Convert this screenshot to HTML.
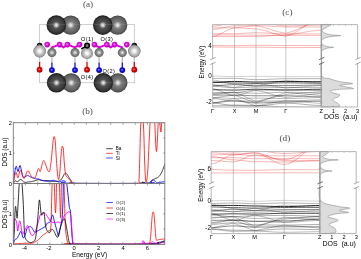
<!DOCTYPE html>
<html><head><meta charset="utf-8"><style>
html,body{margin:0;padding:0;background:#fff;width:361px;height:259px;overflow:hidden}
svg{display:block;filter:blur(0.25px)}

</style></head><body>
<svg width="361" height="259" viewBox="0 0 361 259">
<defs>
<radialGradient id="gDark" cx="50%" cy="50%" r="50%">
 <stop offset="0" stop-color="#ffffff"/><stop offset="0.14" stop-color="#c4c4c4"/>
 <stop offset="0.36" stop-color="#525252"/><stop offset="0.82" stop-color="#363636"/><stop offset="1" stop-color="#141414"/>
</radialGradient>
<radialGradient id="gLight" cx="50%" cy="50%" r="50%">
 <stop offset="0" stop-color="#ffffff"/><stop offset="0.14" stop-color="#d0d0d0"/>
 <stop offset="0.38" stop-color="#7c7c7c"/><stop offset="0.85" stop-color="#5c5c5c"/><stop offset="1" stop-color="#363636"/>
</radialGradient>
<radialGradient id="gWhite" cx="50%" cy="50%" r="50%">
 <stop offset="0" stop-color="#ffffff"/><stop offset="0.25" stop-color="#f0f0f0"/>
 <stop offset="0.55" stop-color="#c4c4c4"/><stop offset="0.85" stop-color="#a2a2a2"/><stop offset="1" stop-color="#6a6a6a"/>
</radialGradient>
<radialGradient id="gGray" cx="50%" cy="50%" r="50%">
 <stop offset="0" stop-color="#ffffff"/><stop offset="0.22" stop-color="#c8c8c8"/>
 <stop offset="0.55" stop-color="#8a8a8a"/><stop offset="0.85" stop-color="#707070"/><stop offset="1" stop-color="#4a4a4a"/>
</radialGradient>
<radialGradient id="gMag" cx="45%" cy="45%" r="55%">
 <stop offset="0" stop-color="#ffa0ff"/><stop offset="0.4" stop-color="#ee10ee"/><stop offset="1" stop-color="#a000a0"/>
</radialGradient>
<radialGradient id="gRed" cx="45%" cy="45%" r="55%">
 <stop offset="0" stop-color="#ffa0a0"/><stop offset="0.4" stop-color="#ee0000"/><stop offset="1" stop-color="#a00000"/>
</radialGradient>
<radialGradient id="gBlue" cx="45%" cy="45%" r="55%">
 <stop offset="0" stop-color="#a0a0ff"/><stop offset="0.4" stop-color="#1010ee"/><stop offset="1" stop-color="#0000a0"/>
</radialGradient>
<radialGradient id="gBlack" cx="40%" cy="40%" r="60%">
 <stop offset="0" stop-color="#707070"/><stop offset="0.5" stop-color="#101010"/><stop offset="1" stop-color="#000000"/>
</radialGradient>
</defs>
<rect width="361" height="259" fill="#fff"/>
<text x="88" y="7.1" font-family="Liberation Serif, serif" font-size="9.2" text-anchor="middle" fill="#4a4a4a" >(a)</text>
<rect x="39.6" y="24.4" width="94.7" height="58.3" fill="none" stroke="#c4c4c4" stroke-width="0.8"/>
<circle cx="70.7" cy="25.1" r="9.7" fill="url(#gLight)"/>
<circle cx="117.6" cy="25.1" r="9.7" fill="url(#gLight)"/>
<circle cx="56.3" cy="25.1" r="9.8" fill="url(#gDark)"/>
<circle cx="102.8" cy="25.1" r="9.8" fill="url(#gDark)"/>
<line x1="39.6" y1="56" x2="39.6" y2="62" stroke="#c8c8c8" stroke-width="1.3"/>
<line x1="39.6" y1="62" x2="39.6" y2="68" stroke="#e00000" stroke-width="1.3"/>
<line x1="87.0" y1="56" x2="87.0" y2="62" stroke="#c8c8c8" stroke-width="1.3"/>
<line x1="87.0" y1="62" x2="87.0" y2="68" stroke="#e00000" stroke-width="1.3"/>
<line x1="134.3" y1="56" x2="134.3" y2="62" stroke="#c8c8c8" stroke-width="1.3"/>
<line x1="134.3" y1="62" x2="134.3" y2="68" stroke="#e00000" stroke-width="1.3"/>
<line x1="51.9" y1="56" x2="51.9" y2="62.5" stroke="#b8b8b8" stroke-width="1.3"/>
<line x1="51.9" y1="62.5" x2="51.9" y2="68.5" stroke="#1010e0" stroke-width="1.3"/>
<line x1="75.0" y1="56" x2="75.0" y2="62.5" stroke="#b8b8b8" stroke-width="1.3"/>
<line x1="75.0" y1="62.5" x2="75.0" y2="68.5" stroke="#1010e0" stroke-width="1.3"/>
<line x1="99.1" y1="56" x2="99.1" y2="62.5" stroke="#b8b8b8" stroke-width="1.3"/>
<line x1="99.1" y1="62.5" x2="99.1" y2="68.5" stroke="#1010e0" stroke-width="1.3"/>
<line x1="122.3" y1="56" x2="122.3" y2="62.5" stroke="#b8b8b8" stroke-width="1.3"/>
<line x1="122.3" y1="62.5" x2="122.3" y2="68.5" stroke="#1010e0" stroke-width="1.3"/>
<path d="M59.6,44.6L51.9,47.4M59.6,44.6L63.5,47.4M67.4,44.6L63.5,47.4M67.4,44.6L75,47.4M106.8,44.6L99.1,47.4M106.8,44.6L110.7,47.4M114.6,44.6L110.7,47.4M114.6,44.6L122.3,47.4M94.4,44.6L99.1,47.4M79.5,44.6L75,47.4" stroke="#e000e0" stroke-width="2.0" stroke-linecap="round" fill="none"/>
<circle cx="39.6" cy="45.6" r="2.8" fill="url(#gBlack)"/>
<circle cx="134.3" cy="45.6" r="2.8" fill="url(#gBlack)"/>
<circle cx="39.7" cy="51.1" r="6.3" fill="url(#gWhite)"/>
<circle cx="134.3" cy="51.1" r="6.3" fill="url(#gWhite)"/>
<circle cx="87" cy="53.2" r="5.9" fill="url(#gWhite)"/>
<circle cx="51.9" cy="52.6" r="4.5" fill="url(#gGray)"/>
<circle cx="75" cy="52.6" r="4.5" fill="url(#gGray)"/>
<circle cx="99.1" cy="52.6" r="4.5" fill="url(#gGray)"/>
<circle cx="122.3" cy="52.6" r="4.5" fill="url(#gGray)"/>
<line x1="87.2" y1="45.6" x2="81.8" y2="48.7" stroke="#000" stroke-width="1.5" stroke-linecap="round"/>
<circle cx="87.1" cy="45.6" r="2.3" fill="#777" stroke="#000" stroke-width="1.5"/>
<circle cx="47.2" cy="44.6" r="2.8" fill="url(#gMag)"/>
<circle cx="59.6" cy="44.6" r="2.8" fill="url(#gMag)"/>
<circle cx="67.4" cy="44.6" r="2.8" fill="url(#gMag)"/>
<circle cx="79.5" cy="44.6" r="2.8" fill="url(#gMag)"/>
<circle cx="94.4" cy="44.6" r="2.8" fill="url(#gMag)"/>
<circle cx="106.8" cy="44.6" r="2.8" fill="url(#gMag)"/>
<circle cx="114.6" cy="44.6" r="2.8" fill="url(#gMag)"/>
<circle cx="126.8" cy="44.6" r="2.8" fill="url(#gMag)"/>
<circle cx="39.6" cy="69.7" r="2.9" fill="url(#gRed)"/>
<circle cx="87" cy="69.7" r="2.9" fill="url(#gRed)"/>
<circle cx="134.3" cy="69.7" r="2.9" fill="url(#gRed)"/>
<circle cx="51.9" cy="70.1" r="2.9" fill="url(#gBlue)"/>
<circle cx="75" cy="70.1" r="2.9" fill="url(#gBlue)"/>
<circle cx="99.1" cy="70.1" r="2.9" fill="url(#gBlue)"/>
<circle cx="122.3" cy="70.1" r="2.9" fill="url(#gBlue)"/>
<circle cx="71.3" cy="82.8" r="9.6" fill="url(#gLight)"/>
<circle cx="117.9" cy="82.8" r="9.6" fill="url(#gLight)"/>
<circle cx="56.5" cy="82.8" r="9.7" fill="url(#gDark)"/>
<circle cx="103.3" cy="82.8" r="9.7" fill="url(#gDark)"/>
<path d="M46,24.4H81M93,24.4H128M46,82.7H81M93,82.7H128" stroke="#b0b0b0" stroke-width="0.6" stroke-opacity="0.35" fill="none"/>
<text x="81" y="40.9" font-family="Liberation Sans, sans-serif" font-size="5.6" text-anchor="start" fill="#000" letter-spacing="0.4">O(1)</text>
<text x="100.6" y="40.9" font-family="Liberation Sans, sans-serif" font-size="5.6" text-anchor="start" fill="#000" letter-spacing="0.4">O(3)</text>
<text x="80.8" y="78.5" font-family="Liberation Sans, sans-serif" font-size="5.6" text-anchor="start" fill="#000" letter-spacing="0.4">O(4)</text>
<text x="102.4" y="73" font-family="Liberation Sans, sans-serif" font-size="5.6" text-anchor="start" fill="#000" letter-spacing="0.4">O(2)</text>
<text x="87.5" y="113.8" font-family="Liberation Serif, serif" font-size="9.2" text-anchor="middle" fill="#4a4a4a" >(b)</text>
<clipPath id="cu"><rect x="13.3" y="122.7" width="151.5" height="60.8"/></clipPath>
<clipPath id="cl"><rect x="13.3" y="183.5" width="151.5" height="60.900000000000006"/></clipPath>
<g clip-path="url(#cu)">
<path d="M13.3,183.3 L13.53,183 L13.84,182.56 L14.22,182.05 L14.62,181.55 L15.03,181.14 L15.4,180.9 L15.74,180.89 L16.06,181.05 L16.38,181.3 L16.71,181.55 L17.08,181.71 L17.5,181.7 L17.99,181.43 L18.55,180.97 L19.14,180.41 L19.74,179.88 L20.3,179.47 L20.8,179.3 L21.23,179.41 L21.61,179.74 L21.96,180.19 L22.29,180.69 L22.63,181.15 L23,181.5 L23.39,181.75 L23.78,181.98 L24.17,182.17 L24.58,182.32 L24.99,182.43 L25.4,182.5 L25.82,182.5 L26.24,182.44 L26.67,182.33 L27.11,182.21 L27.55,182.09 L28,182 L28.45,181.94 L28.9,181.9 L29.36,181.86 L29.83,181.82 L30.31,181.77 L30.8,181.7 L31.29,181.61 L31.79,181.52 L32.29,181.41 L32.81,181.29 L33.38,181.16 L34,181 L34.7,180.79 L35.47,180.53 L36.29,180.26 L37.1,180 L37.89,179.8 L38.6,179.7 L39.21,179.72 L39.73,179.83 L40.21,180 L40.72,180.19 L41.3,180.37 L42,180.5 L42.85,180.58 L43.81,180.63 L44.84,180.66 L45.9,180.7 L46.97,180.74 L48,180.8 L49.02,180.89 L50.07,181.01 L51.12,181.13 L52.15,181.25 L53.12,181.34 L54,181.4 L54.8,181.42 L55.54,181.42 L56.23,181.39 L56.86,181.35 L57.45,181.28 L58,181.2 L58.5,181.11 L58.93,181.02 L59.32,180.91 L59.68,180.77 L60.04,180.57 L60.4,180.3 L60.77,179.95 L61.14,179.53 L61.49,179.05 L61.84,178.54 L62.18,178.02 L62.5,177.5 L62.81,176.95 L63.1,176.35 L63.39,175.74 L63.66,175.15 L63.93,174.62 L64.2,174.2 L64.46,173.87 L64.71,173.61 L64.96,173.41 L65.21,173.28 L65.45,173.21 L65.7,173.2 L65.95,173.26 L66.19,173.4 L66.43,173.6 L66.68,173.86 L66.93,174.16 L67.2,174.5 L67.48,174.9 L67.77,175.37 L68.07,175.89 L68.37,176.44 L68.68,176.98 L69,177.5 L69.33,178.01 L69.67,178.53 L70.02,179.04 L70.36,179.55 L70.69,180.04 L71,180.5 L71.27,180.94 L71.52,181.38 L71.75,181.8 L71.98,182.19 L72.23,182.52 L72.5,182.8 L72.07,183.01 L70.78,183.15 L69.5,183.24 L69.11,183.31 L70.49,183.35 L74.5,183.4 L82.48,183.44 L93.99,183.47 L107.26,183.49 L120.53,183.48 L132.03,183.45 L140,183.4 L143.99,183.31 L145.34,183.19 L144.92,183.05 L143.6,182.9 L142.27,182.74 L141.8,182.6 L142.03,182.44 L142.23,182.26 L142.42,182.07 L142.6,181.92 L142.79,181.82 L143,181.8 L143.21,181.9 L143.4,182.1 L143.61,182.35 L143.84,182.61 L144.13,182.85 L144.5,183 L144.98,183.08 L145.57,183.11 L146.22,183.12 L146.87,183.1 L147.48,183.05 L148,183 L148.41,182.94 L148.76,182.86 L149.06,182.76 L149.35,182.64 L149.66,182.49 L150,182.3 L150.39,182.06 L150.8,181.79 L151.22,181.48 L151.65,181.15 L152.08,180.82 L152.5,180.5 L152.92,180.18 L153.33,179.84 L153.75,179.5 L154.17,179.17 L154.58,178.87 L155,178.6 L155.42,178.4 L155.83,178.25 L156.25,178.13 L156.67,178 L157.08,177.84 L157.5,177.6 L157.92,177.31 L158.33,176.99 L158.75,176.63 L159.17,176.22 L159.58,175.75 L160,175.2 L160.42,174.57 L160.83,173.87 L161.25,173.11 L161.67,172.29 L162.08,171.41 L162.5,170.5 L162.95,169.45 L163.43,168.23 L163.91,166.96 L164.35,165.75 L164.73,164.73 L165,164" fill="none" stroke="#000" stroke-width="0.8" stroke-linejoin="round" />
<path d="M13.3,183.2 L13.42,182.18 L13.59,180.76 L13.79,179.09 L14.02,177.3 L14.26,175.56 L14.5,174 L14.75,172.47 L15.03,170.81 L15.31,169.19 L15.61,167.77 L15.91,166.72 L16.2,166.2 L16.49,166.47 L16.79,167.45 L17.08,168.8 L17.38,170.17 L17.69,171.22 L18,171.6 L18.33,171.1 L18.67,169.96 L19.02,168.49 L19.36,167.02 L19.69,165.88 L20,165.4 L20.28,165.65 L20.53,166.38 L20.78,167.44 L21.01,168.67 L21.25,169.91 L21.5,171 L21.75,172.05 L22,173.21 L22.24,174.38 L22.5,175.47 L22.79,176.37 L23.1,177 L23.45,177.3 L23.84,177.33 L24.26,177.19 L24.68,176.94 L25.1,176.69 L25.5,176.5 L25.88,176.33 L26.26,176.11 L26.63,175.88 L27.01,175.67 L27.39,175.53 L27.8,175.5 L28.23,175.61 L28.67,175.84 L29.12,176.14 L29.59,176.46 L30.05,176.76 L30.5,177 L30.95,177.17 L31.4,177.31 L31.84,177.43 L32.29,177.54 L32.74,177.66 L33.2,177.8 L33.66,177.96 L34.13,178.15 L34.61,178.34 L35.08,178.52 L35.54,178.68 L36,178.8 L36.45,178.87 L36.89,178.9 L37.33,178.9 L37.76,178.9 L38.18,178.93 L38.6,179 L39,179.12 L39.39,179.28 L39.78,179.46 L40.16,179.65 L40.57,179.84 L41,180 L41.45,180.15 L41.9,180.3 L42.36,180.44 L42.86,180.57 L43.4,180.69 L44,180.8 L44.67,180.9 L45.4,181.01 L46.18,181.11 L46.99,181.18 L47.8,181.21 L48.6,181.2 L49.43,181.11 L50.3,180.94 L51.18,180.73 L52.03,180.53 L52.82,180.37 L53.5,180.3 L54.05,180.32 L54.49,180.4 L54.86,180.53 L55.2,180.69 L55.57,180.85 L56,181 L56.5,181.17 L57.05,181.38 L57.61,181.59 L58.17,181.79 L58.71,181.93 L59.2,182 L59.63,181.97 L60.03,181.85 L60.4,181.69 L60.76,181.5 L61.12,181.33 L61.5,181.2 L61.9,181.09 L62.32,180.99 L62.74,180.89 L63.16,180.81 L63.55,180.78 L63.9,180.8 L64.21,180.88 L64.49,181.01 L64.74,181.19 L64.98,181.39 L65.23,181.59 L65.5,181.8 L64.88,182.03 L63.16,182.29 L61.46,182.56 L60.85,182.81 L62.43,183.04 L67.3,183.2 L77.09,183.31 L91.25,183.37 L107.61,183.41 L123.97,183.4 L138.16,183.37 L148,183.3 L152.95,183.2 L154.64,183.08 L154.16,182.92 L152.59,182.72 L151.01,182.48 L150.5,182.2 L150.87,181.81 L151.23,181.3 L151.57,180.74 L151.91,180.23 L152.25,179.82 L152.6,179.6 L152.96,179.6 L153.33,179.76 L153.69,180.04 L154.06,180.37 L154.43,180.71 L154.8,181 L155.16,181.28 L155.5,181.59 L155.85,181.91 L156.21,182.2 L156.59,182.44 L157,182.6 L157.43,182.66 L157.87,182.66 L158.32,182.59 L158.82,182.5 L159.38,182.4 L160,182.3 L160.78,182.2 L161.7,182.07 L162.69,181.93 L163.63,181.8 L164.43,181.68 L165,181.6" fill="none" stroke="#0000ff" stroke-width="0.9" stroke-linejoin="round" />
<path d="M13.3,183.2 L13.44,182.41 L13.63,181.3 L13.85,179.99 L14.1,178.63 L14.35,177.36 L14.6,176.3 L14.85,175.37 L15.1,174.43 L15.37,173.58 L15.64,172.9 L15.92,172.48 L16.2,172.4 L16.48,172.91 L16.76,174 L17.04,175.34 L17.34,176.63 L17.66,177.56 L18,177.8 L18.37,177.07 L18.75,175.57 L19.15,173.7 L19.57,171.87 L20.02,170.5 L20.5,170 L21.01,170.67 L21.55,172.26 L22.11,174.3 L22.7,176.34 L23.29,177.93 L23.9,178.6 L24.52,178.09 L25.17,176.7 L25.82,174.86 L26.49,172.99 L27.15,171.49 L27.8,170.8 L28.44,171.06 L29.09,171.95 L29.74,173.23 L30.37,174.64 L31,175.91 L31.6,176.8 L32.2,177.36 L32.79,177.82 L33.37,178.14 L33.92,178.31 L34.44,178.31 L34.9,178.1 L35.3,177.61 L35.65,176.85 L35.96,175.91 L36.24,174.89 L36.52,173.88 L36.8,173 L37.08,172.14 L37.34,171.21 L37.6,170.31 L37.86,169.51 L38.12,168.91 L38.4,168.6 L38.7,168.77 L39.01,169.38 L39.33,170.19 L39.66,170.96 L39.98,171.44 L40.3,171.4 L40.62,170.71 L40.94,169.54 L41.27,168.09 L41.59,166.56 L41.9,165.13 L42.2,164 L42.48,163.1 L42.74,162.25 L42.99,161.51 L43.25,160.93 L43.51,160.58 L43.8,160.5 L44.11,160.78 L44.44,161.37 L44.77,162.19 L45.12,163.13 L45.46,164.1 L45.8,165 L46.14,165.91 L46.48,166.93 L46.82,167.97 L47.16,168.96 L47.48,169.83 L47.8,170.5 L48.11,171.01 L48.41,171.44 L48.7,171.75 L48.98,171.89 L49.25,171.82 L49.5,171.5 L49.73,170.89 L49.94,170.02 L50.14,168.94 L50.33,167.7 L50.51,166.37 L50.7,165 L50.89,163.57 L51.07,162.04 L51.25,160.41 L51.43,158.69 L51.61,156.88 L51.8,155 L51.99,152.92 L52.19,150.61 L52.39,148.22 L52.6,145.89 L52.8,143.77 L53,142 L53.2,140.52 L53.4,139.2 L53.61,138.09 L53.81,137.24 L54.01,136.69 L54.2,136.5 L54.39,136.66 L54.58,137.13 L54.76,137.91 L54.94,138.98 L55.12,140.35 L55.3,142 L55.47,144.07 L55.64,146.59 L55.8,149.41 L55.96,152.35 L56.13,155.27 L56.3,158 L56.48,160.66 L56.66,163.39 L56.84,166.09 L57.02,168.66 L57.21,171 L57.4,173 L57.59,174.74 L57.79,176.31 L57.99,177.65 L58.2,178.69 L58.4,179.36 L58.6,179.6 L58.8,179.37 L59,178.73 L59.21,177.71 L59.41,176.39 L59.61,174.8 L59.8,173 L59.99,170.8 L60.18,168.12 L60.36,165.18 L60.54,162.2 L60.72,159.4 L60.9,157 L61.08,154.94 L61.25,153.04 L61.42,151.32 L61.59,149.8 L61.75,148.52 L61.9,147.5 L62.03,146.79 L62.16,146.37 L62.27,146.19 L62.38,146.18 L62.49,146.27 L62.6,146.4 L62.71,146.5 L62.83,146.61 L62.94,146.82 L63.05,147.23 L63.17,147.92 L63.3,149 L63.44,150.59 L63.58,152.64 L63.72,154.97 L63.88,157.43 L64.04,159.83 L64.2,162 L64.37,164.04 L64.55,166.09 L64.73,168.09 L64.92,169.96 L65.11,171.62 L65.3,173 L65.48,174.03 L65.64,174.76 L65.81,175.28 L66,175.69 L66.22,176.06 L66.5,176.5 L66.84,176.96 L67.22,177.36 L67.64,177.73 L68.08,178.11 L68.54,178.52 L69,179 L69.48,179.6 L70,180.29 L70.53,181.02 L71.06,181.72 L71.55,182.34 L72,182.8 L71.68,183.09 L70.46,183.26 L69.22,183.34 L68.81,183.36 L70.12,183.37 L74,183.4 L81.74,183.46 L92.91,183.53 L105.79,183.59 L118.66,183.6 L129.8,183.55 L137.5,183.4 L141.33,183.35 L142.59,183.47 L142.12,183.51 L140.78,183.27 L139.42,182.5 L138.9,181 L139.07,178.7 L139.21,175.79 L139.33,172.35 L139.45,168.5 L139.57,164.35 L139.7,160 L139.84,155.12 L139.97,149.56 L140.11,143.69 L140.26,137.89 L140.42,132.53 L140.6,128 L140.8,124.04 L141.02,120.3 L141.26,117 L141.5,114.37 L141.75,112.63 L142,112 L142.26,112.63 L142.54,114.37 L142.82,117 L143.1,120.3 L143.37,124.04 L143.6,128 L143.8,132.56 L143.98,137.96 L144.14,143.81 L144.3,149.7 L144.45,155.23 L144.6,160 L144.75,164.12 L144.9,167.93 L145.05,171.38 L145.2,174.41 L145.35,176.97 L145.5,179 L145.66,180.47 L145.81,181.41 L145.97,181.88 L146.14,181.93 L146.31,181.62 L146.5,181 L146.7,180.14 L146.91,179 L147.12,177.5 L147.35,175.56 L147.57,173.08 L147.8,170 L148.03,166.08 L148.25,161.33 L148.48,156.06 L148.71,150.56 L148.95,145.1 L149.2,140 L149.45,134.97 L149.71,129.74 L149.98,124.56 L150.25,119.7 L150.53,115.43 L150.8,112 L151.07,109.39 L151.35,107.37 L151.62,105.94 L151.91,105.07 L152.2,104.77 L152.5,105 L152.83,105.91 L153.18,107.52 L153.54,109.69 L153.9,112.26 L154.22,115.08 L154.5,118 L154.72,121.27 L154.91,125.06 L155.06,129.09 L155.2,133.11 L155.34,136.84 L155.5,140 L155.67,142.81 L155.83,145.54 L156,147.97 L156.17,149.91 L156.33,151.15 L156.5,151.5 L156.67,150.77 L156.83,149.09 L157,146.72 L157.17,143.91 L157.33,140.92 L157.5,138 L157.67,134.81 L157.83,131.07 L158,127.16 L158.17,123.43 L158.33,120.25 L158.5,118 L158.67,116.73 L158.84,116.15 L159.01,116.12 L159.18,116.52 L159.34,117.19 L159.5,118 L159.65,119.16 L159.79,120.81 L159.92,122.75 L160.06,124.74 L160.18,126.56 L160.3,128 L160.41,129.13 L160.51,130.15 L160.61,131 L160.71,131.63 L160.8,131.98 L160.9,132 L161,131.67 L161.09,131.04 L161.17,130.12 L161.27,128.96 L161.38,127.58 L161.5,126 L161.63,123.99 L161.75,121.48 L161.88,118.75 L162.04,116.07 L162.24,113.73 L162.5,112 L162.86,110.95 L163.31,110.37 L163.81,110.12 L164.3,110.07 L164.71,110.08 L165,110" fill="none" stroke="#ff0000" stroke-width="0.8" stroke-linejoin="round" />
</g>
<g clip-path="url(#cl)">
<path d="M13.3,244 L14.01,243.94 L14.99,243.86 L16.15,243.77 L17.42,243.67 L18.73,243.58 L20,243.5 L21.32,243.43 L22.76,243.36 L24.23,243.3 L25.66,243.25 L26.94,243.21 L28,243.2 L28.79,243.23 L29.37,243.3 L29.81,243.39 L30.19,243.47 L30.56,243.52 L31,243.5 L31.49,243.43 L31.96,243.32 L32.44,243.18 L32.93,242.99 L33.44,242.77 L34,242.5 L34.6,242.19 L35.24,241.86 L35.9,241.47 L36.59,241.04 L37.29,240.56 L38,240 L38.75,239.32 L39.55,238.52 L40.37,237.66 L41.17,236.81 L41.92,236.03 L42.6,235.4 L43.18,234.93 L43.69,234.59 L44.15,234.32 L44.59,234.08 L45.03,233.82 L45.5,233.5 L46,233.11 L46.53,232.69 L47.05,232.26 L47.56,231.82 L48.05,231.39 L48.5,231 L48.92,230.78 L49.32,230.74 L49.69,230.72 L50.04,230.54 L50.34,230.02 L50.6,229 L50.8,227.43 L50.94,225.44 L51.05,223.12 L51.13,220.56 L51.21,217.82 L51.3,215 L51.39,211.98 L51.47,208.67 L51.55,205.19 L51.63,201.67 L51.71,198.23 L51.8,195 L51.9,191.8 L51.99,188.48 L52.09,185.25 L52.2,182.3 L52.33,179.81 L52.5,178 L52.71,176.76 L52.97,175.93 L53.24,175.56 L53.52,175.74 L53.78,176.53 L54,178 L54.17,180.5 L54.32,184.04 L54.45,188.19 L54.57,192.52 L54.68,196.6 L54.8,200 L54.92,202.99 L55.04,205.96 L55.16,208.69 L55.27,210.93 L55.38,212.44 L55.5,213 L55.62,212.44 L55.74,210.93 L55.86,208.69 L55.97,205.96 L56.09,202.99 L56.2,200 L56.29,196.6 L56.35,192.52 L56.41,188.19 L56.49,184.04 L56.61,180.5 L56.8,178 L57.09,176.47 L57.46,175.56 L57.88,175.25 L58.3,175.56 L58.69,176.47 L59,178 L59.23,180.44 L59.41,183.87 L59.55,187.9 L59.67,192.18 L59.78,196.33 L59.9,200 L60.02,203.6 L60.12,207.5 L60.22,211.27 L60.31,214.5 L60.4,216.75 L60.5,217.6 L60.6,216.75 L60.7,214.5 L60.8,211.27 L60.9,207.5 L61,203.6 L61.1,200 L61.18,196.33 L61.24,192.18 L61.31,187.9 L61.39,183.87 L61.51,180.44 L61.7,178 L61.98,176.47 L62.34,175.56 L62.74,175.25 L63.15,175.56 L63.51,176.47 L63.8,178 L64,180.36 L64.13,183.59 L64.23,187.44 L64.31,191.63 L64.39,195.91 L64.5,200 L64.63,204.16 L64.75,208.63 L64.88,213.19 L65.01,217.59 L65.15,221.61 L65.3,225 L65.45,227.69 L65.59,229.85 L65.74,231.62 L65.91,233.15 L66.09,234.56 L66.3,236 L66.54,237.47 L66.8,238.85 L67.09,240.12 L67.39,241.26 L67.69,242.23 L68,243 L67.43,243.53 L65.81,243.81 L64.2,243.94 L63.66,243.96 L65.24,243.96 L70,244 L79.55,244.07 L93.37,244.11 L109.31,244.12 L125.23,244.11 L139.01,244.07 L148.5,244 L153.16,243.94 L154.61,243.89 L153.9,243.81 L152.11,243.67 L150.32,243.41 L149.6,243 L149.76,242.46 L149.92,241.81 L150.07,241.06 L150.21,240.19 L150.36,239.17 L150.5,238 L150.64,236.62 L150.78,235.04 L150.91,233.31 L151.04,231.52 L151.17,229.72 L151.3,228 L151.42,226.28 L151.54,224.5 L151.66,222.71 L151.77,220.99 L151.88,219.4 L152,218 L152.12,216.78 L152.24,215.68 L152.36,214.71 L152.47,213.87 L152.59,213.17 L152.7,212.6 L152.81,212.2 L152.91,211.97 L153.01,211.87 L153.1,211.87 L153.2,211.92 L153.3,212 L153.4,212.06 L153.5,212.12 L153.59,212.24 L153.69,212.48 L153.79,212.88 L153.9,213.5 L154.01,214.37 L154.13,215.46 L154.24,216.72 L154.36,218.09 L154.48,219.54 L154.6,221 L154.72,222.56 L154.83,224.26 L154.95,226.03 L155.07,227.8 L155.18,229.48 L155.3,231 L155.42,232.39 L155.53,233.72 L155.64,234.97 L155.76,236.11 L155.88,237.13 L156,238 L156.12,238.71 L156.24,239.29 L156.37,239.73 L156.5,240.07 L156.64,240.32 L156.8,240.5 L156.97,240.56 L157.14,240.49 L157.33,240.32 L157.53,240.12 L157.75,239.93 L158,239.8 L158.25,239.73 L158.5,239.68 L158.76,239.64 L159.08,239.61 L159.48,239.56 L160,239.5 L160.72,239.41 L161.63,239.3 L162.62,239.18 L163.59,239.07 L164.42,238.97 L165,238.9" fill="none" stroke="#ff0000" stroke-width="0.8" stroke-linejoin="round" />
<path d="M13.3,244 L13.46,243.52 L13.67,242.84 L13.92,242.04 L14.2,241.22 L14.5,240.47 L14.8,239.9 L15.12,239.53 L15.46,239.31 L15.82,239.16 L16.19,239.02 L16.55,238.82 L16.9,238.5 L17.24,238.04 L17.57,237.49 L17.9,236.88 L18.23,236.24 L18.56,235.61 L18.9,235 L19.24,234.3 L19.59,233.47 L19.94,232.64 L20.3,231.94 L20.65,231.52 L21,231.5 L21.35,232.09 L21.7,233.21 L22.05,234.61 L22.4,236.01 L22.75,237.16 L23.1,237.8 L23.45,237.91 L23.8,237.7 L24.15,237.23 L24.5,236.58 L24.85,235.82 L25.2,235 L25.53,234.01 L25.85,232.77 L26.16,231.41 L26.5,230.07 L26.87,228.89 L27.3,228 L27.82,227.41 L28.42,227 L29.06,226.74 L29.69,226.63 L30.29,226.62 L30.8,226.7 L31.22,226.92 L31.57,227.3 L31.89,227.79 L32.18,228.34 L32.48,228.9 L32.8,229.4 L33.14,229.91 L33.47,230.47 L33.81,231.04 L34.16,231.56 L34.52,231.96 L34.9,232.2 L35.29,232.24 L35.7,232.13 L36.11,231.9 L36.55,231.61 L37.01,231.29 L37.5,231 L38.02,230.72 L38.57,230.41 L39.15,230.08 L39.75,229.73 L40.37,229.37 L41,229 L41.68,228.62 L42.42,228.24 L43.17,227.84 L43.91,227.43 L44.6,226.98 L45.2,226.5 L45.69,225.95 L46.1,225.31 L46.46,224.66 L46.79,224.02 L47.13,223.45 L47.5,223 L47.91,222.76 L48.32,222.71 L48.74,222.72 L49.16,222.69 L49.58,222.49 L50,222 L50.42,221.01 L50.85,219.56 L51.28,217.94 L51.7,216.44 L52.11,215.33 L52.5,214.9 L52.85,215.22 L53.17,216.08 L53.47,217.34 L53.78,218.84 L54.11,220.44 L54.5,222 L54.97,223.66 L55.5,225.57 L56.06,227.59 L56.61,229.55 L57.1,231.3 L57.5,232.7 L57.77,233.81 L57.95,234.77 L58.07,235.52 L58.18,236.01 L58.31,236.19 L58.5,236 L58.75,235.36 L59.04,234.28 L59.34,232.89 L59.66,231.31 L59.98,229.64 L60.3,228 L60.62,226.41 L60.97,224.78 L61.31,223.06 L61.64,221.22 L61.95,219.22 L62.2,217 L62.4,214.55 L62.56,211.89 L62.68,209.06 L62.79,206.11 L62.89,203.08 L63,200 L63.09,196.62 L63.15,192.85 L63.2,189 L63.27,185.37 L63.4,182.27 L63.6,180 L63.91,178.59 L64.3,177.81 L64.74,177.56 L65.2,177.74 L65.63,178.25 L66,179 L66.3,180.06 L66.55,181.54 L66.78,183.35 L67,185.41 L67.24,187.66 L67.5,190 L67.8,192.69 L68.14,195.83 L68.48,199.15 L68.82,202.37 L69.13,205.21 L69.4,207.4 L69.62,208.67 L69.8,209.19 L69.95,209.34 L70.09,209.47 L70.24,209.97 L70.4,211.2 L70.58,213.26 L70.75,215.89 L70.93,218.87 L71.11,222.01 L71.3,225.12 L71.5,228 L71.7,230.83 L71.9,233.81 L72.11,236.76 L72.33,239.48 L72.56,241.79 L72.8,243.5 L72.21,244.48 L70.6,244.86 L69.01,244.82 L68.45,244.57 L69.94,244.3 L74.5,244.2 L83.59,244.25 L96.7,244.27 L111.86,244.27 L127.1,244.26 L140.47,244.23 L150,244.2 L155.29,244.17 L157.81,244.15 L158.47,244.11 L158.13,244.05 L157.68,243.95 L158,243.8 L158.91,243.58 L159.67,243.31 L160.31,243 L160.89,242.67 L161.44,242.33 L162,242 L162.59,241.66 L163.19,241.27 L163.75,240.89 L164.26,240.53 L164.69,240.22 L165,240" fill="none" stroke="#0000ff" stroke-width="0.9" stroke-linejoin="round" />
<path d="M13.2,244 L13.19,241.37 L13.16,237.54 L13.12,233.1 L13.13,228.64 L13.21,224.74 L13.4,222 L13.73,220.41 L14.19,219.5 L14.72,219.16 L15.27,219.27 L15.78,219.72 L16.2,220.4 L16.53,221.64 L16.82,223.61 L17.07,225.91 L17.3,228.17 L17.51,229.99 L17.7,231 L17.87,231.07 L17.99,230.49 L18.1,229.47 L18.21,228.24 L18.33,227.01 L18.5,226 L18.7,224.98 L18.91,223.71 L19.15,222.46 L19.41,221.44 L19.69,220.91 L20,221.1 L20.35,222.35 L20.74,224.54 L21.16,227.22 L21.59,229.92 L22.01,232.2 L22.4,233.6 L22.77,234.03 L23.12,233.85 L23.47,233.24 L23.81,232.4 L24.15,231.52 L24.5,230.8 L24.86,230.15 L25.23,229.4 L25.59,228.62 L25.95,227.86 L26.29,227.2 L26.6,226.7 L26.86,226.28 L27.07,225.88 L27.26,225.57 L27.46,225.44 L27.69,225.56 L28,226 L28.39,226.95 L28.83,228.38 L29.32,230.06 L29.82,231.76 L30.32,233.25 L30.8,234.3 L31.26,234.91 L31.73,235.28 L32.19,235.43 L32.65,235.41 L33.09,235.25 L33.5,235 L33.87,234.66 L34.21,234.19 L34.53,233.59 L34.85,232.84 L35.2,231.92 L35.6,230.8 L36.07,229.37 L36.61,227.62 L37.17,225.7 L37.73,223.76 L38.25,221.94 L38.7,220.4 L39.05,219.12 L39.32,217.97 L39.55,216.95 L39.79,216.05 L40.09,215.27 L40.5,214.6 L41.03,214.02 L41.65,213.53 L42.33,213.15 L43.03,212.92 L43.73,212.86 L44.4,213 L45.05,213.42 L45.72,214.1 L46.39,214.96 L47.03,215.9 L47.64,216.81 L48.2,217.6 L48.68,218.31 L49.08,219.02 L49.45,219.71 L49.82,220.35 L50.22,220.92 L50.7,221.4 L51.26,221.78 L51.88,222.09 L52.54,222.33 L53.21,222.51 L53.87,222.63 L54.5,222.7 L55.11,222.69 L55.71,222.57 L56.31,222.4 L56.89,222.22 L57.45,222.07 L58,222 L58.51,222.11 L58.98,222.37 L59.43,222.68 L59.89,222.88 L60.37,222.87 L60.9,222.5 L61.48,221.66 L62.1,220.43 L62.74,218.97 L63.4,217.46 L64.06,216.08 L64.7,215 L65.36,214.19 L66.04,213.52 L66.73,212.97 L67.38,212.54 L67.98,212.22 L68.5,212 L68.92,211.87 L69.28,211.81 L69.58,211.88 L69.83,212.07 L70.07,212.44 L70.3,213 L70.51,213.73 L70.7,214.59 L70.86,215.62 L71,216.85 L71.15,218.3 L71.3,220 L71.45,222.11 L71.6,224.65 L71.75,227.41 L71.9,230.19 L72.05,232.78 L72.2,235 L72.36,236.88 L72.51,238.6 L72.68,240.14 L72.84,241.49 L73.01,242.61 L73.2,243.5 L72.66,244.08 L71.23,244.34 L69.82,244.38 L69.3,244.31 L70.56,244.21 L74.5,244.2 L82.44,244.27 L93.93,244.33 L107.21,244.38 L120.49,244.39 L132.02,244.34 L140,244.2 L144.02,243.95 L145.4,243.6 L145.01,243.18 L143.74,242.75 L142.44,242.34 L142,242 L142.26,241.7 L142.49,241.39 L142.7,241.1 L142.9,240.87 L143.1,240.73 L143.3,240.7 L143.5,240.82 L143.7,241.08 L143.89,241.42 L144.08,241.81 L144.28,242.18 L144.5,242.5 L144.7,242.8 L144.89,243.11 L145.07,243.43 L145.3,243.7 L145.6,243.9 L146,244 L146.54,243.98 L147.2,243.86 L147.93,243.67 L148.68,243.45 L149.39,243.21 L150,243 L150.52,242.77 L150.98,242.49 L151.4,242.21 L151.8,241.95 L152.19,241.77 L152.6,241.7 L152.92,241.79 L153.13,242.01 L153.34,242.3 L153.64,242.6 L154.16,242.86 L155,243 L156.34,243.02 L158.14,242.95 L160.15,242.83 L162.13,242.7 L163.82,242.58 L165,242.5" fill="none" stroke="#ff00ff" stroke-width="0.95" stroke-linejoin="round" />
<path d="M13.3,244 L13.41,242.79 L13.57,241.19 L13.76,239.25 L13.95,237.04 L14.14,234.6 L14.3,232 L14.44,228.96 L14.56,225.4 L14.68,221.61 L14.79,217.9 L14.89,214.6 L15,212 L15.1,210.09 L15.2,208.62 L15.29,207.54 L15.39,206.83 L15.49,206.42 L15.6,206.3 L15.72,206.59 L15.85,207.35 L15.99,208.43 L16.13,209.67 L16.26,210.91 L16.4,212 L16.53,213.23 L16.66,214.8 L16.78,216.37 L16.91,217.61 L17.05,218.2 L17.2,217.8 L17.36,216.2 L17.54,213.62 L17.73,210.39 L17.91,206.82 L18.11,203.25 L18.3,200 L18.48,196.83 L18.66,193.42 L18.84,190.01 L19.04,186.82 L19.25,184.08 L19.5,182 L19.79,180.49 L20.12,179.33 L20.48,178.62 L20.83,178.44 L21.18,178.88 L21.5,180 L21.8,181.97 L22.08,184.74 L22.36,188.12 L22.62,191.93 L22.87,195.95 L23.1,200 L23.31,204.41 L23.51,209.41 L23.69,214.64 L23.86,219.72 L24.03,224.29 L24.2,228 L24.34,230.75 L24.45,232.82 L24.55,234.39 L24.69,235.62 L24.89,236.7 L25.2,237.8 L25.63,238.87 L26.16,239.77 L26.76,240.51 L27.4,241.12 L28.05,241.61 L28.7,242 L29.36,242.29 L30.07,242.47 L30.79,242.53 L31.51,242.47 L32.18,242.29 L32.8,242 L33.35,241.72 L33.85,241.49 L34.32,241.14 L34.76,240.51 L35.18,239.45 L35.6,237.8 L36.01,235.38 L36.4,232.29 L36.77,228.77 L37.13,225.05 L37.48,221.38 L37.8,218 L38.1,214.5 L38.36,210.61 L38.61,206.77 L38.86,203.41 L39.12,200.98 L39.4,199.9 L39.7,200.7 L40.02,203.13 L40.34,206.48 L40.68,210.04 L41.03,213.12 L41.4,215 L41.79,215.39 L42.21,214.8 L42.64,213.72 L43.08,212.65 L43.5,212.08 L43.9,212.5 L44.26,214.17 L44.58,216.73 L44.89,219.8 L45.21,222.97 L45.57,225.83 L46,228 L46.52,229.5 L47.11,230.67 L47.74,231.54 L48.37,232.14 L48.97,232.52 L49.5,232.7 L49.95,232.52 L50.36,231.93 L50.73,231.1 L51.08,230.24 L51.43,229.54 L51.8,229.2 L52.17,229.21 L52.53,229.41 L52.88,229.77 L53.25,230.26 L53.65,230.85 L54.1,231.5 L54.61,232.43 L55.19,233.69 L55.79,235.05 L56.4,236.27 L56.98,237.1 L57.5,237.3 L57.96,236.74 L58.38,235.59 L58.77,234.04 L59.14,232.33 L59.52,230.64 L59.9,229.2 L60.29,227.94 L60.67,226.69 L61.06,225.46 L61.44,224.3 L61.82,223.24 L62.2,222.3 L62.58,221.36 L62.97,220.37 L63.35,219.47 L63.73,218.81 L64.12,218.54 L64.5,218.8 L64.88,219.7 L65.27,221.15 L65.65,222.98 L66.03,225.04 L66.42,227.17 L66.8,229.2 L67.19,231.32 L67.58,233.69 L67.97,236.12 L68.36,238.44 L68.74,240.46 L69.1,242 L69.43,242.98 L69.72,243.53 L70.01,243.79 L70.3,243.87 L70.62,243.9 L71,244 L70.59,244.14 L69.21,244.21 L67.87,244.22 L67.55,244.21 L69.26,244.2 L74,244.2 L83.23,244.23 L96.44,244.28 L111.69,244.32 L127,244.33 L140.42,244.3 L150,244.2 L155.28,244.01 L157.74,243.73 L158.31,243.41 L157.93,243.08 L157.51,242.76 L158,242.5 L159.31,242.28 L160.67,242.08 L162,241.89 L163.22,241.73 L164.25,241.6 L165,241.5" fill="none" stroke="#000" stroke-width="0.8" stroke-linejoin="round" />
</g>
<rect x="13.3" y="122.7" width="151.5" height="60.8" fill="none" stroke="#7a7a7a" stroke-width="0.9"/>
<rect x="13.3" y="183.5" width="151.5" height="60.900000000000006" fill="none" stroke="#7a7a7a" stroke-width="0.9"/>
<path d="M25.4,122.7v2.0M25.4,183.5v-2.0M25.4,183.5v2.0M25.4,244.4v-2.0M37.6,122.7v2.0M37.6,183.5v-2.0M37.6,183.5v2.0M37.6,244.4v-2.0M49.8,122.7v2.0M49.8,183.5v-2.0M49.8,183.5v2.0M49.8,244.4v-2.0M62,122.7v2.0M62,183.5v-2.0M62,183.5v2.0M62,244.4v-2.0M74.2,122.7v2.0M74.2,183.5v-2.0M74.2,183.5v2.0M74.2,244.4v-2.0M86.4,122.7v2.0M86.4,183.5v-2.0M86.4,183.5v2.0M86.4,244.4v-2.0M98.6,122.7v2.0M98.6,183.5v-2.0M98.6,183.5v2.0M98.6,244.4v-2.0M110.8,122.7v2.0M110.8,183.5v-2.0M110.8,183.5v2.0M110.8,244.4v-2.0M123,122.7v2.0M123,183.5v-2.0M123,183.5v2.0M123,244.4v-2.0M135.2,122.7v2.0M135.2,183.5v-2.0M135.2,183.5v2.0M135.2,244.4v-2.0M147.4,122.7v2.0M147.4,183.5v-2.0M147.4,183.5v2.0M147.4,244.4v-2.0M159.6,122.7v2.0M159.6,183.5v-2.0M159.6,183.5v2.0M159.6,244.4v-2.0M13.3,122.7h1.6M164.8,122.7h-1.6M13.3,137.9h1.6M164.8,137.9h-1.6M13.3,153.1h1.6M164.8,153.1h-1.6M13.3,168.3h1.6M164.8,168.3h-1.6M13.3,183.5h1.6M164.8,183.5h-1.6M13.3,183.5h1.6M164.8,183.5h-1.6M13.3,198.7h1.6M164.8,198.7h-1.6M13.3,213.9h1.6M164.8,213.9h-1.6M13.3,229.1h1.6M164.8,229.1h-1.6M13.3,244.3h1.6M164.8,244.3h-1.6" stroke="#7a7a7a" stroke-width="0.7" fill="none"/>
<text x="12.1" y="124.8" font-family="Liberation Sans, sans-serif" font-size="5.8" text-anchor="end" fill="#000" >2</text>
<text x="12.1" y="155.2" font-family="Liberation Sans, sans-serif" font-size="5.8" text-anchor="end" fill="#000" >1</text>
<text x="12.1" y="185.6" font-family="Liberation Sans, sans-serif" font-size="5.8" text-anchor="end" fill="#000" >0</text>
<text x="12.1" y="216" font-family="Liberation Sans, sans-serif" font-size="5.8" text-anchor="end" fill="#000" >1</text>
<text x="12.1" y="246.5" font-family="Liberation Sans, sans-serif" font-size="5.8" text-anchor="end" fill="#000" >0</text>
<text x="24.5" y="250.4" font-family="Liberation Sans, sans-serif" font-size="5.8" text-anchor="middle" fill="#000" >-4</text>
<text x="48.9" y="250.4" font-family="Liberation Sans, sans-serif" font-size="5.8" text-anchor="middle" fill="#000" >-2</text>
<text x="74.2" y="250.4" font-family="Liberation Sans, sans-serif" font-size="5.8" text-anchor="middle" fill="#000" >0</text>
<text x="98.6" y="250.4" font-family="Liberation Sans, sans-serif" font-size="5.8" text-anchor="middle" fill="#000" >2</text>
<text x="123" y="250.4" font-family="Liberation Sans, sans-serif" font-size="5.8" text-anchor="middle" fill="#000" >4</text>
<text x="147.4" y="250.4" font-family="Liberation Sans, sans-serif" font-size="5.8" text-anchor="middle" fill="#000" >6</text>
<text x="89.5" y="257.3" font-family="Liberation Sans, sans-serif" font-size="6.6" text-anchor="middle" fill="#000" >Energy (eV)</text>
<text x="0" y="0" transform="translate(7.2,152) rotate(-90)" font-family="Liberation Sans, sans-serif" font-size="6.4" text-anchor="middle">DOS (a.u)</text>
<text x="0" y="0" transform="translate(7.2,214) rotate(-90)" font-family="Liberation Sans, sans-serif" font-size="6.4" text-anchor="middle">DOS (a.u)</text>
<line x1="106.2" y1="148.7" x2="112.8" y2="148.7" stroke="#000" stroke-width="0.7"/>
<text x="115.8" y="150.3" font-family="Liberation Sans, sans-serif" font-size="4.6" text-anchor="start" fill="#000" >Ba</text>
<line x1="106.2" y1="153.35" x2="112.8" y2="153.35" stroke="#ff0000" stroke-width="0.7"/>
<text x="115.8" y="154.95" font-family="Liberation Sans, sans-serif" font-size="4.6" text-anchor="start" fill="#000" >Ti</text>
<line x1="106.2" y1="158" x2="112.8" y2="158" stroke="#0000ff" stroke-width="0.7"/>
<text x="115.8" y="159.6" font-family="Liberation Sans, sans-serif" font-size="4.6" text-anchor="start" fill="#000" >Si</text>
<line x1="106.4" y1="202.5" x2="113" y2="202.5" stroke="#0000ff" stroke-width="0.7"/>
<text x="116.1" y="204" font-family="Liberation Sans, sans-serif" font-size="4.3" text-anchor="start" fill="#000" letter-spacing="0.15">O(2)</text>
<line x1="106.4" y1="208" x2="113" y2="208" stroke="#ff0000" stroke-width="0.7"/>
<text x="116.1" y="209.5" font-family="Liberation Sans, sans-serif" font-size="4.3" text-anchor="start" fill="#000" letter-spacing="0.15">O(4)</text>
<line x1="106.4" y1="213.5" x2="113" y2="213.5" stroke="#000" stroke-width="0.7"/>
<text x="116.1" y="215" font-family="Liberation Sans, sans-serif" font-size="4.3" text-anchor="start" fill="#000" letter-spacing="0.15">O(1)</text>
<line x1="106.4" y1="219" x2="113" y2="219" stroke="#ff00ff" stroke-width="0.7"/>
<text x="116.1" y="220.5" font-family="Liberation Sans, sans-serif" font-size="4.3" text-anchor="start" fill="#000" letter-spacing="0.15">O(3)</text>
<text x="287.4" y="15" font-family="Liberation Serif, serif" font-size="9.2" text-anchor="middle" fill="#4a4a4a" >(c)</text>
<clipPath id="cpc"><rect x="212.6" y="24.6" width="108.70000000000002" height="82.4"/></clipPath>
<g clip-path="url(#cpc)">
<path d="M212.6,45.5 L215.34,45.51 L218.07,45.52 L220.81,45.53 L223.55,45.55 L226.29,45.57 L229.03,45.58 L231.76,45.59 L234.5,45.6 L237.19,45.58 L239.88,45.54 L242.56,45.5 L245.25,45.45 L247.94,45.4 L250.62,45.36 L253.31,45.32 L256,45.3 L259.73,45.32 L263.45,45.34 L267.18,45.37 L270.9,45.4 L274.62,45.43 L278.35,45.46 L282.07,45.48 L285.8,45.5 L290.24,45.51 L294.68,45.52 L299.11,45.53 L303.55,45.55 L307.99,45.57 L312.43,45.58 L316.86,45.59 L321.3,45.6" fill="none" stroke="#e81010" stroke-width="0.5" stroke-linejoin="round" stroke-opacity="0.6"/>
<path d="M212.6,47 L215.34,47.02 L218.07,47.04 L220.81,47.07 L223.55,47.1 L226.29,47.13 L229.03,47.16 L231.76,47.18 L234.5,47.2 L237.19,47.2 L239.88,47.2 L242.56,47.2 L245.25,47.2 L247.94,47.2 L250.62,47.2 L253.31,47.2 L256,47.2 L259.73,47.23 L263.45,47.28 L267.18,47.34 L270.9,47.4 L274.62,47.46 L278.35,47.52 L282.07,47.57 L285.8,47.6 L290.24,47.59 L294.68,47.58 L299.11,47.57 L303.55,47.55 L307.99,47.53 L312.43,47.52 L316.86,47.51 L321.3,47.5" fill="none" stroke="#e81010" stroke-width="0.5" stroke-linejoin="round" stroke-opacity="0.6"/>
<path d="M212.6,35 L215.34,35 L218.07,35 L220.81,35 L223.55,35 L226.29,35 L229.03,35 L231.76,35 L234.5,35 L237.19,35.02 L239.88,35.04 L242.56,35.07 L245.25,35.1 L247.94,35.13 L250.62,35.16 L253.31,35.18 L256,35.2 L259.73,35.22 L263.45,35.24 L267.18,35.27 L270.9,35.3 L274.62,35.33 L278.35,35.36 L282.07,35.38 L285.8,35.4 L290.24,35.4 L294.68,35.4 L299.11,35.4 L303.55,35.4 L307.99,35.4 L312.43,35.4 L316.86,35.4 L321.3,35.4" fill="none" stroke="#e81010" stroke-width="0.5" stroke-linejoin="round" stroke-opacity="0.6"/>
<path d="M212.6,33.7 L215.34,33.7 L218.07,33.7 L220.81,33.7 L223.55,33.7 L226.29,33.7 L229.03,33.7 L231.76,33.7 L234.5,33.7 L237.19,33.62 L239.88,33.5 L242.56,33.36 L245.25,33.2 L247.94,33.04 L250.62,32.9 L253.31,32.78 L256,32.7 L259.73,32.8 L263.45,32.94 L267.18,33.11 L270.9,33.3 L274.62,33.49 L278.35,33.66 L282.07,33.8 L285.8,33.9 L290.24,33.9 L294.68,33.9 L299.11,33.9 L303.55,33.9 L307.99,33.9 L312.43,33.9 L316.86,33.9 L321.3,33.9" fill="none" stroke="#e81010" stroke-width="0.5" stroke-linejoin="round" stroke-opacity="0.6"/>
<path d="M212.6,36.7 L215.34,35.97 L218.07,34.94 L220.81,33.66 L223.55,32.25 L226.29,30.84 L229.03,29.56 L231.76,28.53 L234.5,27.8 L237.19,27.88 L239.88,28 L242.56,28.14 L245.25,28.3 L247.94,28.46 L250.62,28.6 L253.31,28.72 L256,28.8 L259.73,29.41 L263.45,30.29 L267.18,31.36 L270.9,32.55 L274.62,33.74 L278.35,34.81 L282.07,35.69 L285.8,36.3 L290.24,34.81 L294.68,32.67 L299.11,30.04 L303.55,27.15 L307.99,24.26 L312.43,21.63 L316.86,19.49 L321.3,18" fill="none" stroke="#e81010" stroke-width="0.5" stroke-linejoin="round" stroke-opacity="0.6"/>
<path d="M212.6,29.5 L215.34,29.19 L218.07,28.75 L220.81,28.2 L223.55,27.6 L226.29,27 L229.03,26.45 L231.76,26.01 L234.5,25.7 L237.19,25.72 L239.88,25.74 L242.56,25.77 L245.25,25.8 L247.94,25.83 L250.62,25.86 L253.31,25.88 L256,25.9 L259.73,26.5 L263.45,27.35 L267.18,28.4 L270.9,29.55 L274.62,30.7 L278.35,31.75 L282.07,32.6 L285.8,33.2 L290.24,32.12 L294.68,30.58 L299.11,28.69 L303.55,26.6 L307.99,24.51 L312.43,22.62 L316.86,21.08 L321.3,20" fill="none" stroke="#e81010" stroke-width="0.5" stroke-linejoin="round" stroke-opacity="0.6"/>
<path d="M212.6,27.8 L215.34,27.8 L218.07,27.8 L220.81,27.8 L223.55,27.8 L226.29,27.8 L229.03,27.8 L231.76,27.8 L234.5,27.8 L237.19,27.61 L239.88,27.34 L242.56,27.01 L245.25,26.65 L247.94,26.29 L250.62,25.96 L253.31,25.69 L256,25.5 L259.73,25.62 L263.45,25.8 L267.18,26.01 L270.9,26.25 L274.62,26.49 L278.35,26.7 L282.07,26.88 L285.8,27 L290.24,27 L294.68,27 L299.11,27 L303.55,27 L307.99,27 L312.43,27 L316.86,27 L321.3,27" fill="none" stroke="#e81010" stroke-width="0.5" stroke-linejoin="round" stroke-opacity="0.6"/>
<path d="M212.6,26.2 L215.34,25.94 L218.07,25.57 L220.81,25.11 L223.55,24.6 L226.29,24.09 L229.03,23.63 L231.76,23.26 L234.5,23 L237.19,22.92 L239.88,22.8 L242.56,22.66 L245.25,22.5 L247.94,22.34 L250.62,22.2 L253.31,22.08 L256,22 L259.73,22.33 L263.45,22.79 L267.18,23.37 L270.9,24 L274.62,24.63 L278.35,25.21 L282.07,25.67 L285.8,26 L290.24,25.92 L294.68,25.8 L299.11,25.66 L303.55,25.5 L307.99,25.34 L312.43,25.2 L316.86,25.08 L321.3,25" fill="none" stroke="#e81010" stroke-width="0.5" stroke-linejoin="round" stroke-opacity="0.6"/>
<path d="M212.6,36.5 L215.34,36.5 L218.07,36.5 L220.81,36.5 L223.55,36.5 L226.29,36.5 L229.03,36.5 L231.76,36.5 L234.5,36.5 L237.19,36.5 L239.88,36.5 L242.56,36.5 L245.25,36.5 L247.94,36.5 L250.62,36.5 L253.31,36.5 L256,36.5 L259.73,36.36 L263.45,36.16 L267.18,35.92 L270.9,35.65 L274.62,35.38 L278.35,35.14 L282.07,34.94 L285.8,34.8 L290.24,34.41 L294.68,33.85 L299.11,33.16 L303.55,32.4 L307.99,31.64 L312.43,30.95 L316.86,30.39 L321.3,30" fill="none" stroke="#e81010" stroke-width="0.5" stroke-linejoin="round" stroke-opacity="0.6"/>
<path d="M212.6,76.08 L215.34,76.1 L218.07,76.15 L220.81,76.23 L223.55,76.33 L226.29,76.42 L229.03,76.5 L231.76,76.55 L234.5,76.57 L237.19,76.56 L239.88,76.53 L242.56,76.48 L245.25,76.43 L247.94,76.38 L250.62,76.33 L253.31,76.3 L256,76.29 L259.73,76.31 L263.45,76.35 L267.18,76.41 L270.9,76.48 L274.62,76.55 L278.35,76.61 L282.07,76.65 L285.8,76.67 L290.24,76.67 L294.68,76.67 L299.11,76.68 L303.55,76.68 L307.99,76.69 L312.43,76.7 L316.86,76.7 L321.3,76.7" fill="none" stroke="#000" stroke-width="0.5" stroke-linejoin="round" stroke-opacity="0.35"/>
<path d="M212.6,78.4 L215.34,78.4 L218.07,78.39 L220.81,78.38 L223.55,78.36 L226.29,78.35 L229.03,78.33 L231.76,78.32 L234.5,78.32 L237.19,78.37 L239.88,78.51 L242.56,78.73 L245.25,78.98 L247.94,79.23 L250.62,79.45 L253.31,79.59 L256,79.64 L259.73,79.6 L263.45,79.5 L267.18,79.35 L270.9,79.18 L274.62,79 L278.35,78.85 L282.07,78.75 L285.8,78.71 L290.24,78.71 L294.68,78.71 L299.11,78.7 L303.55,78.69 L307.99,78.69 L312.43,78.68 L316.86,78.68 L321.3,78.67" fill="none" stroke="#000" stroke-width="0.5" stroke-linejoin="round" stroke-opacity="0.6"/>
<path d="M212.6,82.29 L215.34,82.26 L218.07,82.17 L220.81,82.03 L223.55,81.87 L226.29,81.71 L229.03,81.58 L231.76,81.48 L234.5,81.45 L237.19,81.47 L239.88,81.54 L242.56,81.63 L245.25,81.75 L247.94,81.86 L250.62,81.95 L253.31,82.02 L256,82.04 L259.73,82.02 L263.45,81.95 L267.18,81.86 L270.9,81.75 L274.62,81.64 L278.35,81.55 L282.07,81.48 L285.8,81.46 L290.24,81.47 L294.68,81.5 L299.11,81.54 L303.55,81.59 L307.99,81.64 L312.43,81.68 L316.86,81.71 L321.3,81.72" fill="none" stroke="#000" stroke-width="0.9" stroke-linejoin="round" stroke-opacity="0.95"/>
<path d="M212.6,82.24 L215.34,82.27 L218.07,82.35 L220.81,82.48 L223.55,82.63 L226.29,82.78 L229.03,82.9 L231.76,82.99 L234.5,83.02 L237.19,83.03 L239.88,83.07 L242.56,83.13 L245.25,83.2 L247.94,83.27 L250.62,83.33 L253.31,83.37 L256,83.39 L259.73,83.37 L263.45,83.31 L267.18,83.22 L270.9,83.11 L274.62,83.01 L278.35,82.92 L282.07,82.86 L285.8,82.84 L290.24,82.85 L294.68,82.89 L299.11,82.94 L303.55,83.01 L307.99,83.08 L312.43,83.13 L316.86,83.17 L321.3,83.19" fill="none" stroke="#000" stroke-width="0.7" stroke-linejoin="round" stroke-opacity="0.85"/>
<path d="M212.6,85.67 L215.34,85.64 L218.07,85.53 L220.81,85.37 L223.55,85.19 L226.29,85 L229.03,84.84 L231.76,84.74 L234.5,84.7 L237.19,84.74 L239.88,84.87 L242.56,85.05 L245.25,85.26 L247.94,85.47 L250.62,85.65 L253.31,85.77 L256,85.81 L259.73,85.8 L263.45,85.77 L267.18,85.73 L270.9,85.68 L274.62,85.63 L278.35,85.58 L282.07,85.56 L285.8,85.55 L290.24,85.53 L294.68,85.48 L299.11,85.4 L303.55,85.31 L307.99,85.23 L312.43,85.15 L316.86,85.1 L321.3,85.08" fill="none" stroke="#000" stroke-width="0.6" stroke-linejoin="round" stroke-opacity="0.8"/>
<path d="M212.6,86.35 L215.34,86.4 L218.07,86.55 L220.81,86.76 L223.55,87.02 L226.29,87.27 L229.03,87.49 L231.76,87.63 L234.5,87.68 L237.19,87.66 L239.88,87.59 L242.56,87.49 L245.25,87.37 L247.94,87.25 L250.62,87.15 L253.31,87.08 L256,87.06 L259.73,87.07 L263.45,87.11 L267.18,87.18 L270.9,87.25 L274.62,87.33 L278.35,87.39 L282.07,87.44 L285.8,87.45 L290.24,87.46 L294.68,87.49 L299.11,87.53 L303.55,87.58 L307.99,87.63 L312.43,87.67 L316.86,87.7 L321.3,87.71" fill="none" stroke="#000" stroke-width="0.5" stroke-linejoin="round" stroke-opacity="0.65"/>
<path d="M212.6,89.74 L215.34,89.76 L218.07,89.79 L220.81,89.84 L223.55,89.91 L226.29,89.97 L229.03,90.03 L231.76,90.06 L234.5,90.07 L237.19,90.04 L239.88,89.95 L242.56,89.81 L245.25,89.65 L247.94,89.49 L250.62,89.36 L253.31,89.26 L256,89.23 L259.73,89.26 L263.45,89.33 L267.18,89.43 L270.9,89.56 L274.62,89.68 L278.35,89.79 L282.07,89.86 L285.8,89.88 L290.24,89.86 L294.68,89.8 L299.11,89.71 L303.55,89.6 L307.99,89.49 L312.43,89.39 L316.86,89.33 L321.3,89.31" fill="none" stroke="#000" stroke-width="0.8" stroke-linejoin="round" stroke-opacity="0.9"/>
<path d="M212.6,92.79 L215.34,92.79 L218.07,92.77 L220.81,92.74 L223.55,92.7 L226.29,92.67 L229.03,92.64 L231.76,92.62 L234.5,92.61 L237.19,92.52 L239.88,92.25 L242.56,91.84 L245.25,91.36 L247.94,90.88 L250.62,90.48 L253.31,90.21 L256,90.11 L259.73,90.12 L263.45,90.13 L267.18,90.15 L270.9,90.17 L274.62,90.2 L278.35,90.22 L282.07,90.23 L285.8,90.24 L290.24,90.24 L294.68,90.27 L299.11,90.32 L303.55,90.36 L307.99,90.41 L312.43,90.46 L316.86,90.48 L321.3,90.49" fill="none" stroke="#000" stroke-width="0.5" stroke-linejoin="round" stroke-opacity="0.65"/>
<path d="M212.6,94.39 L215.34,94.33 L218.07,94.14 L220.81,93.87 L223.55,93.54 L226.29,93.22 L229.03,92.94 L231.76,92.76 L234.5,92.7 L237.19,92.72 L239.88,92.78 L242.56,92.88 L245.25,93 L247.94,93.12 L250.62,93.22 L253.31,93.28 L256,93.31 L259.73,93.27 L263.45,93.15 L267.18,92.98 L270.9,92.78 L274.62,92.58 L278.35,92.42 L282.07,92.3 L285.8,92.26 L290.24,92.29 L294.68,92.36 L299.11,92.47 L303.55,92.59 L307.99,92.72 L312.43,92.83 L316.86,92.9 L321.3,92.92" fill="none" stroke="#000" stroke-width="0.5" stroke-linejoin="round" stroke-opacity="0.55"/>
<path d="M212.6,95.13 L215.34,95.13 L218.07,95.12 L220.81,95.1 L223.55,95.08 L226.29,95.06 L229.03,95.04 L231.76,95.03 L234.5,95.02 L237.19,95.05 L239.88,95.13 L242.56,95.25 L245.25,95.4 L247.94,95.54 L250.62,95.66 L253.31,95.74 L256,95.77 L259.73,95.77 L263.45,95.77 L267.18,95.77 L270.9,95.77 L274.62,95.77 L278.35,95.77 L282.07,95.77 L285.8,95.77 L290.24,95.81 L294.68,95.92 L299.11,96.09 L303.55,96.28 L307.99,96.48 L312.43,96.64 L316.86,96.75 L321.3,96.79" fill="none" stroke="#000" stroke-width="0.6" stroke-linejoin="round" stroke-opacity="0.75"/>
<path d="M212.6,97.58 L215.34,97.61 L218.07,97.7 L220.81,97.83 L223.55,97.98 L226.29,98.13 L229.03,98.26 L231.76,98.34 L234.5,98.37 L237.19,98.36 L239.88,98.34 L242.56,98.3 L245.25,98.26 L247.94,98.21 L250.62,98.17 L253.31,98.15 L256,98.14 L259.73,98.16 L263.45,98.2 L267.18,98.27 L270.9,98.36 L274.62,98.44 L278.35,98.51 L282.07,98.55 L285.8,98.57 L290.24,98.53 L294.68,98.42 L299.11,98.26 L303.55,98.06 L307.99,97.86 L312.43,97.7 L316.86,97.59 L321.3,97.55" fill="none" stroke="#000" stroke-width="0.5" stroke-linejoin="round" stroke-opacity="0.55"/>
<path d="M212.6,98.62 L215.34,98.71 L218.07,98.95 L220.81,99.31 L223.55,99.74 L226.29,100.17 L229.03,100.53 L231.76,100.77 L234.5,100.85 L237.19,100.87 L239.88,100.9 L242.56,100.96 L245.25,101.02 L247.94,101.08 L250.62,101.14 L253.31,101.17 L256,101.19 L259.73,101.18 L263.45,101.16 L267.18,101.13 L270.9,101.09 L274.62,101.05 L278.35,101.02 L282.07,101 L285.8,101 L290.24,100.95 L294.68,100.84 L299.11,100.66 L303.55,100.46 L307.99,100.25 L312.43,100.08 L316.86,99.96 L321.3,99.92" fill="none" stroke="#000" stroke-width="0.5" stroke-linejoin="round" stroke-opacity="0.65"/>
<path d="M212.6,102.58 L215.34,102.52 L218.07,102.35 L220.81,102.09 L223.55,101.78 L226.29,101.47 L229.03,101.21 L231.76,101.04 L234.5,100.98 L237.19,101.05 L239.88,101.27 L242.56,101.59 L245.25,101.97 L247.94,102.35 L250.62,102.67 L253.31,102.89 L256,102.96 L259.73,102.93 L263.45,102.84 L267.18,102.71 L270.9,102.55 L274.62,102.39 L278.35,102.26 L282.07,102.17 L285.8,102.14 L290.24,102.1 L294.68,102 L299.11,101.85 L303.55,101.67 L307.99,101.5 L312.43,101.35 L316.86,101.25 L321.3,101.21" fill="none" stroke="#000" stroke-width="0.6" stroke-linejoin="round" stroke-opacity="0.75"/>
<path d="M212.6,103.1 L215.34,103.2 L218.07,103.47 L220.81,103.88 L223.55,104.37 L226.29,104.85 L229.03,105.26 L231.76,105.54 L234.5,105.63 L237.19,105.65 L239.88,105.7 L242.56,105.77 L245.25,105.85 L247.94,105.93 L250.62,106 L253.31,106.05 L256,106.07 L259.73,105.96 L263.45,105.65 L267.18,105.18 L270.9,104.63 L274.62,104.07 L278.35,103.61 L282.07,103.29 L285.8,103.18 L290.24,103.27 L294.68,103.52 L299.11,103.89 L303.55,104.32 L307.99,104.76 L312.43,105.13 L316.86,105.38 L321.3,105.46" fill="none" stroke="#000" stroke-width="0.5" stroke-linejoin="round" stroke-opacity="0.65"/>
<path d="M212.6,105.81 L215.34,105.78 L218.07,105.69 L220.81,105.56 L223.55,105.4 L226.29,105.24 L229.03,105.1 L231.76,105.01 L234.5,104.98 L237.19,105 L239.88,105.05 L242.56,105.12 L245.25,105.21 L247.94,105.3 L250.62,105.37 L253.31,105.42 L256,105.44 L259.73,105.5 L263.45,105.66 L267.18,105.91 L270.9,106.2 L274.62,106.49 L278.35,106.74 L282.07,106.9 L285.8,106.96 L290.24,106.97 L294.68,107.01 L299.11,107.06 L303.55,107.13 L307.99,107.19 L312.43,107.24 L316.86,107.28 L321.3,107.29" fill="none" stroke="#000" stroke-width="0.5" stroke-linejoin="round" stroke-opacity="0.55"/>
<path d="M212.6,98 L215.34,97.62 L218.07,97.25 L220.81,96.88 L223.55,96.5 L226.29,96.12 L229.03,95.75 L231.76,95.38 L234.5,95 L237.19,96 L239.88,97 L242.56,98 L245.25,99 L247.94,100 L250.62,101 L253.31,102 L256,103 L259.73,101.69 L263.45,100.38 L267.18,99.06 L270.9,97.75 L274.62,96.44 L278.35,95.12 L282.07,93.81 L285.8,92.5 L290.24,92.88 L294.68,93.25 L299.11,93.62 L303.55,94 L307.99,94.38 L312.43,94.75 L316.86,95.12 L321.3,95.5" fill="none" stroke="#000" stroke-width="0.5" stroke-linejoin="round" stroke-opacity="0.55"/>
<path d="M212.6,93.5 L215.34,93.31 L218.07,93.12 L220.81,92.94 L223.55,92.75 L226.29,92.56 L229.03,92.38 L231.76,92.19 L234.5,92 L237.19,93.19 L239.88,94.38 L242.56,95.56 L245.25,96.75 L247.94,97.94 L250.62,99.12 L253.31,100.31 L256,101.5 L259.73,100.62 L263.45,99.75 L267.18,98.88 L270.9,98 L274.62,97.12 L278.35,96.25 L282.07,95.38 L285.8,94.5 L290.24,94.12 L294.68,93.75 L299.11,93.38 L303.55,93 L307.99,92.62 L312.43,92.25 L316.86,91.88 L321.3,91.5" fill="none" stroke="#000" stroke-width="0.5" stroke-linejoin="round" stroke-opacity="0.5"/>
<path d="M212.6,103.5 L215.34,102.88 L218.07,102.25 L220.81,101.62 L223.55,101 L226.29,100.38 L229.03,99.75 L231.76,99.12 L234.5,98.5 L237.19,99.44 L239.88,100.38 L242.56,101.31 L245.25,102.25 L247.94,103.19 L250.62,104.12 L253.31,105.06 L256,106 L259.73,105.31 L263.45,104.62 L267.18,103.94 L270.9,103.25 L274.62,102.56 L278.35,101.88 L282.07,101.19 L285.8,100.5 L290.24,100.88 L294.68,101.25 L299.11,101.62 L303.55,102 L307.99,102.38 L312.43,102.75 L316.86,103.12 L321.3,103.5" fill="none" stroke="#000" stroke-width="0.5" stroke-linejoin="round" stroke-opacity="0.5"/>
<path d="M212.6,84.5 L215.34,84.88 L218.07,85.25 L220.81,85.62 L223.55,86 L226.29,86.38 L229.03,86.75 L231.76,87.12 L234.5,87.5 L237.19,87 L239.88,86.5 L242.56,86 L245.25,85.5 L247.94,85 L250.62,84.5 L253.31,84 L256,83.5 L259.73,84.06 L263.45,84.62 L267.18,85.19 L270.9,85.75 L274.62,86.31 L278.35,86.88 L282.07,87.44 L285.8,88 L290.24,87.69 L294.68,87.38 L299.11,87.06 L303.55,86.75 L307.99,86.44 L312.43,86.12 L316.86,85.81 L321.3,85.5" fill="none" stroke="#000" stroke-width="0.5" stroke-linejoin="round" stroke-opacity="0.5"/>
<path d="M212.6,88.5 L215.34,89.11 L218.07,89.99 L220.81,91.06 L223.55,92.25 L226.29,93.44 L229.03,94.51 L231.76,95.39 L234.5,96 L237.19,95.55 L239.88,94.91 L242.56,94.12 L245.25,93.25 L247.94,92.38 L250.62,91.59 L253.31,90.95 L256,90.5 L259.73,91.07 L263.45,91.89 L267.18,92.89 L270.9,94 L274.62,95.11 L278.35,96.11 L282.07,96.93 L285.8,97.5 L290.24,97.17 L294.68,96.71 L299.11,96.13 L303.55,95.5 L307.99,94.87 L312.43,94.29 L316.86,93.83 L321.3,93.5" fill="none" stroke="#000" stroke-width="0.5" stroke-linejoin="round" stroke-opacity="0.5"/>
<path d="M212.6,80 L215.34,80.33 L218.07,80.79 L220.81,81.37 L223.55,82 L226.29,82.63 L229.03,83.21 L231.76,83.67 L234.5,84 L237.19,84.16 L239.88,84.4 L242.56,84.68 L245.25,85 L247.94,85.32 L250.62,85.6 L253.31,85.84 L256,86 L259.73,85.55 L263.45,84.91 L267.18,84.12 L270.9,83.25 L274.62,82.38 L278.35,81.59 L282.07,80.95 L285.8,80.5 L290.24,80.7 L294.68,81 L299.11,81.35 L303.55,81.75 L307.99,82.15 L312.43,82.5 L316.86,82.8 L321.3,83" fill="none" stroke="#000" stroke-width="0.5" stroke-linejoin="round" stroke-opacity="0.45"/>
</g>
<path d="M234.5,24.6V107.0M256,24.6V107.0M285.8,24.6V107.0" stroke="#909090" stroke-width="0.5" fill="none"/>
<path d="M321.3,24.6 L323.39,24.53 L326.46,24.42 L329.38,24.4 L331,24.6 L330.75,25.13 L329.32,25.89 L327.49,26.74 L326,27.5 L324.95,28.18 L323.97,28.86 L323.13,29.48 L322.5,30 L322.06,30.36 L321.78,30.61 L321.74,30.85 L322,31.2 L322.64,31.74 L323.59,32.39 L324.75,33.05 L326,33.6 L327.29,34.02 L328.69,34.36 L330.25,34.64 L332,34.9 L334.44,35.11 L337.38,35.28 L339.86,35.43 L340.9,35.6 L339.86,35.78 L337.38,35.96 L334.44,36.16 L332,36.4 L330.25,36.67 L328.69,36.96 L327.29,37.29 L326,37.7 L324.77,38.18 L323.64,38.72 L322.69,39.32 L322,40 L321.61,40.8 L321.48,41.71 L321.56,42.61 L321.8,43.4 L322.25,44.06 L322.92,44.64 L323.7,45.16 L324.5,45.6 L325.27,45.96 L326.07,46.25 L326.96,46.49 L328,46.7 L329.51,46.88 L331.37,47.02 L332.94,47.15 L333.6,47.3 L332.94,47.46 L331.37,47.61 L329.51,47.79 L328,48 L326.96,48.25 L326.07,48.52 L325.27,48.83 L324.5,49.2 L323.71,49.53 L322.94,49.85 L322.28,50.34 L321.8,51.2 L321.57,52.3 L321.53,53.61 L321.58,55.41 L321.6,58 L321.41,62.05 L321.13,67.21 L321.08,72.24 L321.6,75.9 L322.9,77.63 L324.77,78.18 L326.88,78.23 L328.9,78.5 L330.85,79.12 L332.87,79.74 L334.83,80.31 L336.6,80.8 L337.99,81.17 L339.11,81.44 L340.32,81.7 L342,82 L344.88,82.37 L348.56,82.76 L351.65,83.18 L352.8,83.6 L350.57,84.01 L346.06,84.41 L341.64,84.85 L339.7,85.4 L341.93,86.14 L346.7,87.01 L351.45,87.86 L353.6,88.5 L351.97,88.85 L348.1,89 L343.5,89.1 L339.7,89.3 L336.76,89.61 L333.99,89.96 L331.75,90.35 L330.4,90.8 L330.23,91.34 L330.98,91.94 L332.22,92.56 L333.5,93.1 L335.02,93.53 L336.9,93.9 L338.63,94.27 L339.7,94.7 L339.9,95.24 L339.52,95.86 L338.81,96.46 L338,97 L336.97,97.41 L335.64,97.74 L334.37,98.08 L333.5,98.5 L333.09,99.04 L332.97,99.65 L333.12,100.29 L333.5,100.9 L334.25,101.46 L335.35,102.01 L336.5,102.57 L337.4,103.2 L338.41,103.97 L339.55,104.85 L340.01,105.67 L339,106.3 L335.52,106.66 L330.25,106.84 L324.93,106.93 L321.3,107Z" fill="#dcdcdc" stroke="#707070" stroke-width="0.45"/>
<path d="M212.6,24.6H321.3M212.6,107.0H321.3M212.6,24.6V58.6M212.6,63.4V107.0M321.3,24.6V58.6M321.3,63.4V107.0" stroke="#999999" stroke-width="0.7" fill="none"/>
<path d="M210.3,59.7L215.6,57.4M210.3,64.5L215.6,62.2" stroke="#555" stroke-width="0.5" fill="none"/>
<path d="M319,59.7L324.3,57.4M319,64.5L324.3,62.2" stroke="#555" stroke-width="0.5" fill="none"/>
<path d="M321.3,24.6H357.6M321.3,107.0H357.6M321.3,24.6V58.6M321.3,63.4V107.0M357.6,24.6V58.6M357.6,63.4V107.0" stroke="#999999" stroke-width="0.7" fill="none"/>
<path d="M319,59.7L324.3,57.4M319,64.5L324.3,62.2" stroke="#555" stroke-width="0.5" fill="none"/>
<path d="M355.3,59.7L360.6,57.4M355.3,64.5L360.6,62.2" stroke="#555" stroke-width="0.5" fill="none"/>
<path d="M333.4,24.6v1.5M333.4,107.0v-1.5M345.5,24.6v1.5M345.5,107.0v-1.5M327.35,24.6v1M327.35,107.0v-1M339.45,24.6v1M339.45,107.0v-1M351.55,24.6v1M351.55,107.0v-1M212.6,76.5h1.5M321.3,76.5h-1.5M321.3,76.5h1.5M212.6,102.4h1.5M321.3,102.4h-1.5M321.3,102.4h1.5M212.6,45.8h1.5M321.3,45.8h-1.5M321.3,45.8h1.5M212.6,89.45h1.5M321.3,89.45h-1.5M321.3,89.45h1.5" stroke="#999999" stroke-width="0.5" fill="none"/>
<text x="211.8" y="47.5" font-family="Liberation Sans, sans-serif" font-size="6.3" text-anchor="end" fill="#000" >4</text>
<text x="211.8" y="78.1" font-family="Liberation Sans, sans-serif" font-size="6.3" text-anchor="end" fill="#000" >0</text>
<text x="211.8" y="104.3" font-family="Liberation Sans, sans-serif" font-size="6.3" text-anchor="end" fill="#000" >-2</text>
<text x="212.6" y="112.8" font-family="Liberation Sans, sans-serif" font-size="5.6" text-anchor="middle" fill="#000" >Γ</text>
<text x="234.5" y="112.8" font-family="Liberation Sans, sans-serif" font-size="5.6" text-anchor="middle" fill="#000" >X</text>
<text x="256" y="112.8" font-family="Liberation Sans, sans-serif" font-size="5.6" text-anchor="middle" fill="#000" >M</text>
<text x="285.8" y="112.8" font-family="Liberation Sans, sans-serif" font-size="5.6" text-anchor="middle" fill="#000" >Γ</text>
<text x="321.3" y="112.8" font-family="Liberation Sans, sans-serif" font-size="5.6" text-anchor="middle" fill="#000" >Z</text>
<text x="333.4" y="112.8" font-family="Liberation Sans, sans-serif" font-size="5.6" text-anchor="middle" fill="#000" >1</text>
<text x="345.5" y="112.8" font-family="Liberation Sans, sans-serif" font-size="5.6" text-anchor="middle" fill="#000" >2</text>
<text x="357.6" y="112.8" font-family="Liberation Sans, sans-serif" font-size="5.6" text-anchor="middle" fill="#000" >3</text>
<text x="340.65" y="119.3" font-family="Liberation Sans, sans-serif" font-size="7.0" text-anchor="middle" fill="#000" >DOS&#160;&#160;(a.u)</text>
<text x="0" y="0" transform="translate(204.1,62.1) rotate(-90) scale(0.86,1)" font-family="Liberation Sans, sans-serif" font-size="7.2" text-anchor="middle">Energy (eV)</text>
<text x="284.9" y="141.45" font-family="Liberation Serif, serif" font-size="9.2" text-anchor="middle" fill="#4a4a4a" >(d)</text>
<clipPath id="cpd"><rect x="211.2" y="151.6" width="108.60000000000002" height="82.0"/></clipPath>
<g clip-path="url(#cpd)">
<path d="M211.2,169.5 L213.96,169.53 L216.72,169.6 L219.49,169.72 L222.25,169.85 L225.01,169.98 L227.78,170.1 L230.54,170.17 L233.3,170.2 L235.96,170.2 L238.62,170.21 L241.29,170.23 L243.95,170.25 L246.61,170.27 L249.28,170.29 L251.94,170.3 L254.6,170.3 L258.3,170.28 L262,170.21 L265.7,170.11 L269.4,170 L273.1,169.89 L276.8,169.79 L280.5,169.72 L284.2,169.7 L288.65,169.7 L293.1,169.7 L297.55,169.7 L302,169.7 L306.45,169.7 L310.9,169.7 L315.35,169.7 L319.8,169.7" fill="none" stroke="#e81010" stroke-width="0.5" stroke-linejoin="round" stroke-opacity="0.6"/>
<path d="M211.2,172.9 L213.96,172.9 L216.72,172.9 L219.49,172.9 L222.25,172.9 L225.01,172.9 L227.78,172.9 L230.54,172.9 L233.3,172.9 L235.96,172.9 L238.62,172.89 L241.29,172.87 L243.95,172.85 L246.61,172.83 L249.28,172.81 L251.94,172.8 L254.6,172.8 L258.3,172.8 L262,172.8 L265.7,172.8 L269.4,172.8 L273.1,172.8 L276.8,172.8 L280.5,172.8 L284.2,172.8 L288.65,172.8 L293.1,172.8 L297.55,172.8 L302,172.8 L306.45,172.8 L310.9,172.8 L315.35,172.8 L319.8,172.8" fill="none" stroke="#e81010" stroke-width="0.5" stroke-linejoin="round" stroke-opacity="0.6"/>
<path d="M211.2,163.9 L213.96,163.56 L216.72,162.6 L219.49,161.15 L222.25,159.45 L225.01,157.75 L227.78,156.3 L230.54,155.34 L233.3,155 L235.96,154.92 L238.62,154.71 L241.29,154.38 L243.95,154 L246.61,153.62 L249.28,153.29 L251.94,153.08 L254.6,153 L258.3,153.44 L262,154.68 L265.7,156.55 L269.4,158.75 L273.1,160.95 L276.8,162.82 L280.5,164.06 L284.2,164.5 L288.65,163.76 L293.1,161.64 L297.55,158.48 L302,154.75 L306.45,151.02 L310.9,147.86 L315.35,145.74 L319.8,145" fill="none" stroke="#e81010" stroke-width="0.5" stroke-linejoin="round" stroke-opacity="0.6"/>
<path d="M211.2,160.5 L213.96,160.55 L216.72,160.71 L219.49,160.93 L222.25,161.2 L225.01,161.47 L227.78,161.69 L230.54,161.85 L233.3,161.9 L235.96,161.64 L238.62,160.89 L241.29,159.77 L243.95,158.45 L246.61,157.13 L249.28,156.01 L251.94,155.26 L254.6,155 L258.3,155.18 L262,155.67 L265.7,156.42 L269.4,157.3 L273.1,158.18 L276.8,158.93 L280.5,159.42 L284.2,159.6 L288.65,159.08 L293.1,157.61 L297.55,155.4 L302,152.8 L306.45,150.2 L310.9,147.99 L315.35,146.52 L319.8,146" fill="none" stroke="#e81010" stroke-width="0.5" stroke-linejoin="round" stroke-opacity="0.6"/>
<path d="M211.2,157.7 L213.96,157.7 L216.72,157.7 L219.49,157.7 L222.25,157.7 L225.01,157.7 L227.78,157.7 L230.54,157.7 L233.3,157.7 L235.96,157.74 L238.62,157.85 L241.29,158.01 L243.95,158.2 L246.61,158.39 L249.28,158.55 L251.94,158.66 L254.6,158.7 L258.3,158.7 L262,158.7 L265.7,158.7 L269.4,158.7 L273.1,158.7 L276.8,158.7 L280.5,158.7 L284.2,158.7 L288.65,158.7 L293.1,158.7 L297.55,158.7 L302,158.7 L306.45,158.7 L310.9,158.7 L315.35,158.7 L319.8,158.7" fill="none" stroke="#e81010" stroke-width="0.5" stroke-linejoin="round" stroke-opacity="0.6"/>
<path d="M211.2,154.9 L213.96,154.87 L216.72,154.8 L219.49,154.68 L222.25,154.55 L225.01,154.42 L227.78,154.3 L230.54,154.23 L233.3,154.2 L235.96,154.26 L238.62,154.43 L241.29,154.69 L243.95,155 L246.61,155.31 L249.28,155.57 L251.94,155.74 L254.6,155.8 L258.3,155.8 L262,155.8 L265.7,155.8 L269.4,155.8 L273.1,155.8 L276.8,155.8 L280.5,155.8 L284.2,155.8 L288.65,155.8 L293.1,155.8 L297.55,155.8 L302,155.8 L306.45,155.8 L310.9,155.8 L315.35,155.8 L319.8,155.8" fill="none" stroke="#e81010" stroke-width="0.5" stroke-linejoin="round" stroke-opacity="0.6"/>
<path d="M211.2,152.8 L213.96,152.85 L216.72,153.01 L219.49,153.23 L222.25,153.5 L225.01,153.77 L227.78,153.99 L230.54,154.15 L233.3,154.2 L235.96,154.15 L238.62,153.99 L241.29,153.77 L243.95,153.5 L246.61,153.23 L249.28,153.01 L251.94,152.85 L254.6,152.8 L258.3,153.1 L262,153.94 L265.7,155.21 L269.4,156.7 L273.1,158.19 L276.8,159.46 L280.5,160.3 L284.2,160.6 L288.65,160.6 L293.1,160.6 L297.55,160.6 L302,160.6 L306.45,160.6 L310.9,160.6 L315.35,160.6 L319.8,160.6" fill="none" stroke="#e81010" stroke-width="0.5" stroke-linejoin="round" stroke-opacity="0.6"/>
<path d="M211.2,156.5 L213.96,156.63 L216.72,156.98 L219.49,157.52 L222.25,158.15 L225.01,158.78 L227.78,159.32 L230.54,159.67 L233.3,159.8 L235.96,159.87 L238.62,160.06 L241.29,160.36 L243.95,160.7 L246.61,161.04 L249.28,161.34 L251.94,161.53 L254.6,161.6 L258.3,161.62 L262,161.66 L265.7,161.72 L269.4,161.8 L273.1,161.88 L276.8,161.94 L280.5,161.98 L284.2,162 L288.65,161.95 L293.1,161.82 L297.55,161.63 L302,161.4 L306.45,161.17 L310.9,160.98 L315.35,160.85 L319.8,160.8" fill="none" stroke="#e81010" stroke-width="0.5" stroke-linejoin="round" stroke-opacity="0.6"/>
<path d="M211.2,151 L213.96,151.04 L216.72,151.15 L219.49,151.31 L222.25,151.5 L225.01,151.69 L227.78,151.85 L230.54,151.96 L233.3,152 L235.96,151.94 L238.62,151.78 L241.29,151.54 L243.95,151.25 L246.61,150.96 L249.28,150.72 L251.94,150.56 L254.6,150.5 L258.3,150.61 L262,150.94 L265.7,151.43 L269.4,152 L273.1,152.57 L276.8,153.06 L280.5,153.39 L284.2,153.5 L288.65,153.42 L293.1,153.21 L297.55,152.88 L302,152.5 L306.45,152.12 L310.9,151.79 L315.35,151.58 L319.8,151.5" fill="none" stroke="#e81010" stroke-width="0.5" stroke-linejoin="round" stroke-opacity="0.6"/>
<path d="M211.2,200.82 L213.96,200.81 L216.72,200.78 L219.49,200.73 L222.25,200.68 L225.01,200.63 L227.78,200.58 L230.54,200.55 L233.3,200.54 L235.96,200.57 L238.62,200.66 L241.29,200.79 L243.95,200.94 L246.61,201.09 L249.28,201.22 L251.94,201.31 L254.6,201.34 L258.3,201.31 L262,201.21 L265.7,201.06 L269.4,200.88 L273.1,200.7 L276.8,200.55 L280.5,200.45 L284.2,200.42 L288.65,200.44 L293.1,200.52 L297.55,200.64 L302,200.79 L306.45,200.93 L310.9,201.05 L315.35,201.13 L319.8,201.16" fill="none" stroke="#000" stroke-width="0.5" stroke-linejoin="round" stroke-opacity="0.35"/>
<path d="M211.2,203.49 L213.96,203.47 L216.72,203.41 L219.49,203.33 L222.25,203.24 L225.01,203.14 L227.78,203.06 L230.54,203.01 L233.3,202.99 L235.96,203.02 L238.62,203.1 L241.29,203.21 L243.95,203.35 L246.61,203.49 L249.28,203.61 L251.94,203.68 L254.6,203.71 L258.3,203.68 L262,203.6 L265.7,203.48 L269.4,203.34 L273.1,203.19 L276.8,203.07 L280.5,202.99 L284.2,202.96 L288.65,202.98 L293.1,203.05 L297.55,203.16 L302,203.28 L306.45,203.4 L310.9,203.5 L315.35,203.57 L319.8,203.59" fill="none" stroke="#000" stroke-width="0.5" stroke-linejoin="round" stroke-opacity="0.6"/>
<path d="M211.2,205.41 L213.96,205.41 L216.72,205.42 L219.49,205.42 L222.25,205.43 L225.01,205.43 L227.78,205.44 L230.54,205.44 L233.3,205.45 L235.96,205.47 L238.62,205.52 L241.29,205.61 L243.95,205.71 L246.61,205.81 L249.28,205.9 L251.94,205.96 L254.6,205.98 L258.3,206 L262,206.07 L265.7,206.18 L269.4,206.3 L273.1,206.42 L276.8,206.53 L280.5,206.6 L284.2,206.62 L288.65,206.58 L293.1,206.46 L297.55,206.28 L302,206.06 L306.45,205.85 L310.9,205.66 L315.35,205.54 L319.8,205.5" fill="none" stroke="#000" stroke-width="0.9" stroke-linejoin="round" stroke-opacity="0.95"/>
<path d="M211.2,206.96 L213.96,206.98 L216.72,207.05 L219.49,207.16 L222.25,207.28 L225.01,207.4 L227.78,207.51 L230.54,207.58 L233.3,207.6 L235.96,207.62 L238.62,207.68 L241.29,207.76 L243.95,207.86 L246.61,207.96 L249.28,208.04 L251.94,208.1 L254.6,208.12 L258.3,208.09 L262,208.03 L265.7,207.93 L269.4,207.82 L273.1,207.71 L276.8,207.61 L280.5,207.55 L284.2,207.52 L288.65,207.51 L293.1,207.48 L297.55,207.43 L302,207.38 L306.45,207.32 L310.9,207.28 L315.35,207.25 L319.8,207.23" fill="none" stroke="#000" stroke-width="0.7" stroke-linejoin="round" stroke-opacity="0.85"/>
<path d="M211.2,210.76 L213.96,210.71 L216.72,210.54 L219.49,210.3 L222.25,210.02 L225.01,209.73 L227.78,209.49 L230.54,209.33 L233.3,209.27 L235.96,209.32 L238.62,209.46 L241.29,209.68 L243.95,209.92 L246.61,210.17 L249.28,210.38 L251.94,210.52 L254.6,210.57 L258.3,210.54 L262,210.44 L265.7,210.29 L269.4,210.12 L273.1,209.94 L276.8,209.8 L280.5,209.7 L284.2,209.66 L288.65,209.65 L293.1,209.63 L297.55,209.59 L302,209.55 L306.45,209.5 L310.9,209.46 L315.35,209.44 L319.8,209.43" fill="none" stroke="#000" stroke-width="0.6" stroke-linejoin="round" stroke-opacity="0.8"/>
<path d="M211.2,211.09 L213.96,211.1 L216.72,211.13 L219.49,211.18 L222.25,211.24 L225.01,211.3 L227.78,211.35 L230.54,211.38 L233.3,211.39 L235.96,211.42 L238.62,211.51 L241.29,211.64 L243.95,211.8 L246.61,211.96 L249.28,212.09 L251.94,212.17 L254.6,212.21 L258.3,212.17 L262,212.06 L265.7,211.89 L269.4,211.7 L273.1,211.5 L276.8,211.34 L280.5,211.23 L284.2,211.19 L288.65,211.21 L293.1,211.28 L297.55,211.39 L302,211.51 L306.45,211.63 L310.9,211.74 L315.35,211.81 L319.8,211.83" fill="none" stroke="#000" stroke-width="0.5" stroke-linejoin="round" stroke-opacity="0.65"/>
<path d="M211.2,214.22 L213.96,214.21 L216.72,214.16 L219.49,214.09 L222.25,214.01 L225.01,213.93 L227.78,213.86 L230.54,213.81 L233.3,213.8 L235.96,213.81 L238.62,213.84 L241.29,213.88 L243.95,213.94 L246.61,213.99 L249.28,214.04 L251.94,214.07 L254.6,214.08 L258.3,214.05 L262,213.96 L265.7,213.84 L269.4,213.69 L273.1,213.54 L276.8,213.41 L280.5,213.33 L284.2,213.3 L288.65,213.3 L293.1,213.3 L297.55,213.3 L302,213.3 L306.45,213.3 L310.9,213.3 L315.35,213.3 L319.8,213.3" fill="none" stroke="#000" stroke-width="0.8" stroke-linejoin="round" stroke-opacity="0.9"/>
<path d="M211.2,215.06 L213.96,215.12 L216.72,215.28 L219.49,215.53 L222.25,215.82 L225.01,216.11 L227.78,216.35 L230.54,216.52 L233.3,216.58 L235.96,216.55 L238.62,216.46 L241.29,216.33 L243.95,216.17 L246.61,216.02 L249.28,215.89 L251.94,215.8 L254.6,215.77 L258.3,215.75 L262,215.72 L265.7,215.66 L269.4,215.59 L273.1,215.52 L276.8,215.46 L280.5,215.42 L284.2,215.41 L288.65,215.44 L293.1,215.53 L297.55,215.67 L302,215.84 L306.45,216.01 L310.9,216.15 L315.35,216.24 L319.8,216.27" fill="none" stroke="#000" stroke-width="0.5" stroke-linejoin="round" stroke-opacity="0.65"/>
<path d="M211.2,217.35 L213.96,217.33 L216.72,217.28 L219.49,217.2 L222.25,217.1 L225.01,217.01 L227.78,216.93 L230.54,216.88 L233.3,216.86 L235.96,216.92 L238.62,217.09 L241.29,217.35 L243.95,217.65 L246.61,217.95 L249.28,218.21 L251.94,218.38 L254.6,218.44 L258.3,218.43 L262,218.4 L265.7,218.35 L269.4,218.29 L273.1,218.23 L276.8,218.18 L280.5,218.15 L284.2,218.14 L288.65,218.08 L293.1,217.92 L297.55,217.69 L302,217.41 L306.45,217.13 L310.9,216.89 L315.35,216.74 L319.8,216.68" fill="none" stroke="#000" stroke-width="0.5" stroke-linejoin="round" stroke-opacity="0.55"/>
<path d="M211.2,220.34 L213.96,220.33 L216.72,220.32 L219.49,220.29 L222.25,220.26 L225.01,220.23 L227.78,220.2 L230.54,220.19 L233.3,220.18 L235.96,220.22 L238.62,220.34 L241.29,220.53 L243.95,220.74 L246.61,220.95 L249.28,221.14 L251.94,221.26 L254.6,221.3 L258.3,221.28 L262,221.23 L265.7,221.16 L269.4,221.07 L273.1,220.98 L276.8,220.9 L280.5,220.85 L284.2,220.83 L288.65,220.78 L293.1,220.63 L297.55,220.4 L302,220.13 L306.45,219.86 L310.9,219.63 L315.35,219.48 L319.8,219.42" fill="none" stroke="#000" stroke-width="0.6" stroke-linejoin="round" stroke-opacity="0.75"/>
<path d="M211.2,223.14 L213.96,223.03 L216.72,222.73 L219.49,222.29 L222.25,221.76 L225.01,221.23 L227.78,220.78 L230.54,220.48 L233.3,220.38 L235.96,220.41 L238.62,220.52 L241.29,220.67 L243.95,220.86 L246.61,221.04 L249.28,221.2 L251.94,221.3 L254.6,221.34 L258.3,221.38 L262,221.5 L265.7,221.67 L269.4,221.88 L273.1,222.09 L276.8,222.26 L280.5,222.38 L284.2,222.42 L288.65,222.35 L293.1,222.14 L297.55,221.83 L302,221.45 L306.45,221.08 L310.9,220.77 L315.35,220.56 L319.8,220.49" fill="none" stroke="#000" stroke-width="0.5" stroke-linejoin="round" stroke-opacity="0.55"/>
<path d="M211.2,224.26 L213.96,224.21 L216.72,224.05 L219.49,223.82 L222.25,223.55 L225.01,223.27 L227.78,223.04 L230.54,222.88 L233.3,222.83 L235.96,222.9 L238.62,223.12 L241.29,223.45 L243.95,223.83 L246.61,224.22 L249.28,224.54 L251.94,224.76 L254.6,224.84 L258.3,224.85 L262,224.88 L265.7,224.93 L269.4,224.99 L273.1,225.05 L276.8,225.1 L280.5,225.13 L284.2,225.15 L288.65,225.12 L293.1,225.06 L297.55,224.96 L302,224.84 L306.45,224.72 L310.9,224.62 L315.35,224.56 L319.8,224.53" fill="none" stroke="#000" stroke-width="0.5" stroke-linejoin="round" stroke-opacity="0.65"/>
<path d="M211.2,227.7 L213.96,227.63 L216.72,227.44 L219.49,227.15 L222.25,226.8 L225.01,226.46 L227.78,226.17 L230.54,225.97 L233.3,225.9 L235.96,225.95 L238.62,226.08 L241.29,226.28 L243.95,226.51 L246.61,226.75 L249.28,226.95 L251.94,227.08 L254.6,227.12 L258.3,227.11 L262,227.08 L265.7,227.03 L269.4,226.96 L273.1,226.9 L276.8,226.85 L280.5,226.81 L284.2,226.8 L288.65,226.8 L293.1,226.8 L297.55,226.79 L302,226.78 L306.45,226.77 L310.9,226.76 L315.35,226.76 L319.8,226.76" fill="none" stroke="#000" stroke-width="0.6" stroke-linejoin="round" stroke-opacity="0.75"/>
<path d="M211.2,228.96 L213.96,229.01 L216.72,229.14 L219.49,229.34 L222.25,229.57 L225.01,229.81 L227.78,230.01 L230.54,230.14 L233.3,230.19 L235.96,230.2 L238.62,230.24 L241.29,230.29 L243.95,230.36 L246.61,230.42 L249.28,230.47 L251.94,230.51 L254.6,230.52 L258.3,230.47 L262,230.3 L265.7,230.06 L269.4,229.77 L273.1,229.48 L276.8,229.24 L280.5,229.07 L284.2,229.02 L288.65,229.04 L293.1,229.11 L297.55,229.2 L302,229.32 L306.45,229.44 L310.9,229.54 L315.35,229.6 L319.8,229.63" fill="none" stroke="#000" stroke-width="0.5" stroke-linejoin="round" stroke-opacity="0.65"/>
<path d="M211.2,229.29 L213.96,229.37 L216.72,229.59 L219.49,229.93 L222.25,230.32 L225.01,230.71 L227.78,231.04 L230.54,231.27 L233.3,231.34 L235.96,231.34 L238.62,231.32 L241.29,231.29 L243.95,231.26 L246.61,231.22 L249.28,231.2 L251.94,231.18 L254.6,231.17 L258.3,231.21 L262,231.33 L265.7,231.51 L269.4,231.72 L273.1,231.94 L276.8,232.12 L280.5,232.24 L284.2,232.28 L288.65,232.26 L293.1,232.2 L297.55,232.11 L302,232 L306.45,231.9 L310.9,231.81 L315.35,231.75 L319.8,231.73" fill="none" stroke="#000" stroke-width="0.5" stroke-linejoin="round" stroke-opacity="0.55"/>
<path d="M211.2,222.6 L213.96,222.22 L216.72,221.85 L219.49,221.47 L222.25,221.1 L225.01,220.72 L227.78,220.35 L230.54,219.97 L233.3,219.6 L235.96,220.6 L238.62,221.6 L241.29,222.6 L243.95,223.6 L246.61,224.6 L249.28,225.6 L251.94,226.6 L254.6,227.6 L258.3,226.29 L262,224.97 L265.7,223.66 L269.4,222.35 L273.1,221.04 L276.8,219.72 L280.5,218.41 L284.2,217.1 L288.65,217.47 L293.1,217.85 L297.55,218.22 L302,218.6 L306.45,218.97 L310.9,219.35 L315.35,219.72 L319.8,220.1" fill="none" stroke="#000" stroke-width="0.5" stroke-linejoin="round" stroke-opacity="0.55"/>
<path d="M211.2,218.1 L213.96,217.91 L216.72,217.72 L219.49,217.54 L222.25,217.35 L225.01,217.16 L227.78,216.97 L230.54,216.79 L233.3,216.6 L235.96,217.79 L238.62,218.97 L241.29,220.16 L243.95,221.35 L246.61,222.54 L249.28,223.72 L251.94,224.91 L254.6,226.1 L258.3,225.22 L262,224.35 L265.7,223.47 L269.4,222.6 L273.1,221.72 L276.8,220.85 L280.5,219.97 L284.2,219.1 L288.65,218.72 L293.1,218.35 L297.55,217.97 L302,217.6 L306.45,217.22 L310.9,216.85 L315.35,216.47 L319.8,216.1" fill="none" stroke="#000" stroke-width="0.5" stroke-linejoin="round" stroke-opacity="0.5"/>
<path d="M211.2,228.1 L213.96,227.47 L216.72,226.85 L219.49,226.22 L222.25,225.6 L225.01,224.97 L227.78,224.35 L230.54,223.72 L233.3,223.1 L235.96,224.04 L238.62,224.97 L241.29,225.91 L243.95,226.85 L246.61,227.79 L249.28,228.72 L251.94,229.66 L254.6,230.6 L258.3,229.91 L262,229.22 L265.7,228.54 L269.4,227.85 L273.1,227.16 L276.8,226.47 L280.5,225.79 L284.2,225.1 L288.65,225.47 L293.1,225.85 L297.55,226.22 L302,226.6 L306.45,226.97 L310.9,227.35 L315.35,227.72 L319.8,228.1" fill="none" stroke="#000" stroke-width="0.5" stroke-linejoin="round" stroke-opacity="0.5"/>
<path d="M211.2,209.1 L213.96,209.47 L216.72,209.85 L219.49,210.22 L222.25,210.6 L225.01,210.97 L227.78,211.35 L230.54,211.72 L233.3,212.1 L235.96,211.6 L238.62,211.1 L241.29,210.6 L243.95,210.1 L246.61,209.6 L249.28,209.1 L251.94,208.6 L254.6,208.1 L258.3,208.66 L262,209.22 L265.7,209.79 L269.4,210.35 L273.1,210.91 L276.8,211.47 L280.5,212.04 L284.2,212.6 L288.65,212.29 L293.1,211.97 L297.55,211.66 L302,211.35 L306.45,211.04 L310.9,210.72 L315.35,210.41 L319.8,210.1" fill="none" stroke="#000" stroke-width="0.5" stroke-linejoin="round" stroke-opacity="0.5"/>
<path d="M211.2,213.1 L213.96,213.71 L216.72,214.59 L219.49,215.66 L222.25,216.85 L225.01,218.04 L227.78,219.11 L230.54,219.99 L233.3,220.6 L235.96,220.15 L238.62,219.51 L241.29,218.72 L243.95,217.85 L246.61,216.98 L249.28,216.19 L251.94,215.55 L254.6,215.1 L258.3,215.67 L262,216.49 L265.7,217.49 L269.4,218.6 L273.1,219.71 L276.8,220.71 L280.5,221.53 L284.2,222.1 L288.65,221.77 L293.1,221.31 L297.55,220.73 L302,220.1 L306.45,219.47 L310.9,218.89 L315.35,218.43 L319.8,218.1" fill="none" stroke="#000" stroke-width="0.5" stroke-linejoin="round" stroke-opacity="0.5"/>
<path d="M211.2,204.6 L213.96,204.93 L216.72,205.39 L219.49,205.97 L222.25,206.6 L225.01,207.23 L227.78,207.81 L230.54,208.27 L233.3,208.6 L235.96,208.76 L238.62,209 L241.29,209.28 L243.95,209.6 L246.61,209.92 L249.28,210.2 L251.94,210.44 L254.6,210.6 L258.3,210.15 L262,209.51 L265.7,208.72 L269.4,207.85 L273.1,206.98 L276.8,206.19 L280.5,205.55 L284.2,205.1 L288.65,205.3 L293.1,205.6 L297.55,205.95 L302,206.35 L306.45,206.75 L310.9,207.1 L315.35,207.4 L319.8,207.6" fill="none" stroke="#000" stroke-width="0.5" stroke-linejoin="round" stroke-opacity="0.45"/>
</g>
<path d="M233.3,151.6V233.6M254.6,151.6V233.6M284.2,151.6V233.6" stroke="#909090" stroke-width="0.5" fill="none"/>
<path d="M319.8,151.6 L321.53,151.55 L324.07,151.47 L326.58,151.46 L328.2,151.6 L328.62,151.96 L328.31,152.47 L327.65,153.05 L327,153.6 L326.34,154.12 L325.52,154.66 L324.69,155.17 L324,155.6 L323.43,155.9 L322.91,156.12 L322.56,156.32 L322.5,156.6 L322.77,156.99 L323.31,157.44 L324.07,157.9 L325,158.3 L326.11,158.63 L327.42,158.93 L328.89,159.18 L330.5,159.4 L332.65,159.56 L335.23,159.68 L337.39,159.78 L338.3,159.9 L337.39,160.03 L335.23,160.16 L332.65,160.31 L330.5,160.5 L328.94,160.71 L327.54,160.95 L326.24,161.24 L325,161.6 L323.72,162.04 L322.47,162.56 L321.38,163.14 L320.6,163.8 L320.18,164.59 L320.03,165.49 L320.12,166.39 L320.4,167.2 L320.93,167.9 L321.72,168.55 L322.62,169.12 L323.5,169.6 L324.31,169.96 L325.13,170.22 L326.01,170.42 L327,170.6 L328.38,170.74 L330.03,170.83 L331.42,170.91 L332,171 L331.42,171.11 L330.03,171.21 L328.38,171.34 L327,171.5 L326.01,171.69 L325.14,171.9 L324.32,172.16 L323.5,172.5 L322.61,172.82 L321.69,173.15 L320.88,173.68 L320.3,174.6 L320.05,175.82 L320.05,177.28 L320.15,179.25 L320.2,182 L319.8,186.12 L319.14,191.3 L319.02,196.43 L320.2,200.4 L323.31,202.83 L327.79,204.33 L332.68,205.32 L337,206.2 L341.05,206.94 L345.16,207.37 L348.41,207.69 L349.9,208.1 L348.46,208.65 L344.88,209.24 L341.18,209.83 L339.4,210.4 L340.82,210.96 L344.12,211.52 L347.39,212.04 L348.7,212.5 L347.19,212.82 L344.01,213.04 L340.24,213.29 L337,213.7 L334.06,214.31 L331.01,215.06 L328.66,215.87 L327.8,216.7 L329.5,217.53 L333.06,218.38 L336.61,219.27 L338.3,220.2 L337.01,221.19 L333.94,222.22 L330.73,223.27 L329,224.3 L329.52,225.29 L331.32,226.27 L333.4,227.26 L334.8,228.3 L335.56,229.5 L336.1,230.81 L335.99,232.01 L334.8,232.9 L331.75,233.37 L327.3,233.54 L322.85,233.57 L319.8,233.6Z" fill="#dcdcdc" stroke="#707070" stroke-width="0.45"/>
<path d="M211.2,151.6H319.8M211.2,233.6H319.8M211.2,151.6V182.9M211.2,187.6V233.6M319.8,151.6V182.9M319.8,187.6V233.6" stroke="#999999" stroke-width="0.7" fill="none"/>
<path d="M208.9,184L214.2,181.7M208.9,188.7L214.2,186.4" stroke="#555" stroke-width="0.5" fill="none"/>
<path d="M317.5,184L322.8,181.7M317.5,188.7L322.8,186.4" stroke="#555" stroke-width="0.5" fill="none"/>
<path d="M319.8,151.6H356.2M319.8,233.6H356.2M319.8,151.6V182.9M319.8,187.6V233.6M356.2,151.6V182.9M356.2,187.6V233.6" stroke="#999999" stroke-width="0.7" fill="none"/>
<path d="M317.5,184L322.8,181.7M317.5,188.7L322.8,186.4" stroke="#555" stroke-width="0.5" fill="none"/>
<path d="M353.9,184L359.2,181.7M353.9,188.7L359.2,186.4" stroke="#555" stroke-width="0.5" fill="none"/>
<path d="M331.93,151.6v1.5M331.93,233.6v-1.5M344.07,151.6v1.5M344.07,233.6v-1.5M325.87,151.6v1M325.87,233.6v-1M338,151.6v1M338,233.6v-1M350.13,151.6v1M350.13,233.6v-1M211.2,201.1h1.5M319.8,201.1h-1.5M319.8,201.1h1.5M211.2,227.6h1.5M319.8,227.6h-1.5M319.8,227.6h1.5M211.2,168.3h1.5M319.8,168.3h-1.5M319.8,168.3h1.5M211.2,214.35h1.5M319.8,214.35h-1.5M319.8,214.35h1.5" stroke="#999999" stroke-width="0.5" fill="none"/>
<text x="210.9" y="170.8" font-family="Liberation Sans, sans-serif" font-size="6.3" text-anchor="end" fill="#000" >6</text>
<text x="210.9" y="202.7" font-family="Liberation Sans, sans-serif" font-size="6.3" text-anchor="end" fill="#000" >0</text>
<text x="210.9" y="229.5" font-family="Liberation Sans, sans-serif" font-size="6.3" text-anchor="end" fill="#000" >-2</text>
<text x="211.2" y="239.4" font-family="Liberation Sans, sans-serif" font-size="5.6" text-anchor="middle" fill="#000" >Γ</text>
<text x="233.3" y="239.4" font-family="Liberation Sans, sans-serif" font-size="5.6" text-anchor="middle" fill="#000" >X</text>
<text x="254.6" y="239.4" font-family="Liberation Sans, sans-serif" font-size="5.6" text-anchor="middle" fill="#000" >M</text>
<text x="284.2" y="239.4" font-family="Liberation Sans, sans-serif" font-size="5.6" text-anchor="middle" fill="#000" >Γ</text>
<text x="319.8" y="239.4" font-family="Liberation Sans, sans-serif" font-size="5.6" text-anchor="middle" fill="#000" >Z</text>
<text x="331.93" y="239.4" font-family="Liberation Sans, sans-serif" font-size="5.6" text-anchor="middle" fill="#000" >1</text>
<text x="344.07" y="239.4" font-family="Liberation Sans, sans-serif" font-size="5.6" text-anchor="middle" fill="#000" >2</text>
<text x="356.2" y="239.4" font-family="Liberation Sans, sans-serif" font-size="5.6" text-anchor="middle" fill="#000" >3</text>
<text x="339.2" y="245.9" font-family="Liberation Sans, sans-serif" font-size="7.0" text-anchor="middle" fill="#000" >DOS&#160;&#160;(a.u)</text>
<text x="0" y="0" transform="translate(202.8,185.3) rotate(-90) scale(0.86,1)" font-family="Liberation Sans, sans-serif" font-size="7.2" text-anchor="middle">Energy (eV)</text>
</svg>
</body></html>
